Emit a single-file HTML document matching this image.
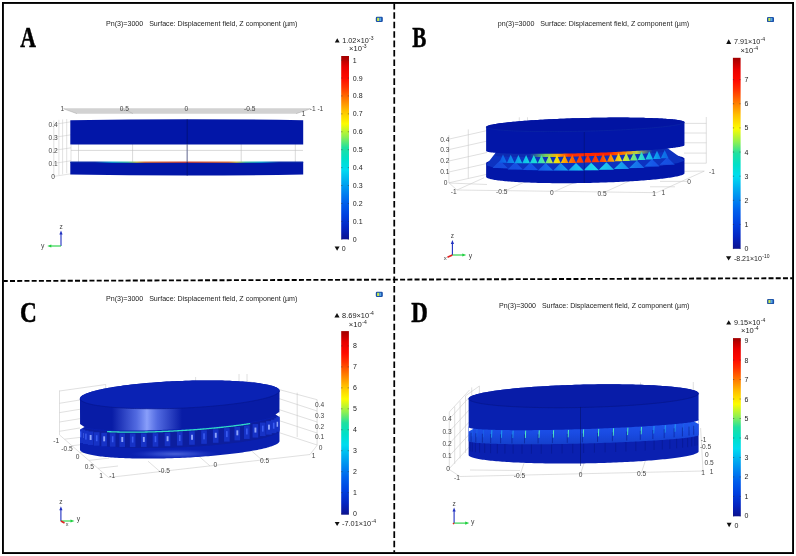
<!DOCTYPE html><html><head><meta charset="utf-8"><style>html,body{margin:0;padding:0;background:#fff;overflow:hidden}svg{display:block;filter:blur(0.45px)}</style></head><body>
<svg width="796" height="556" viewBox="0 0 796 556" font-family='"Liberation Sans", sans-serif'>
<defs>
<linearGradient id="gA" x1="0" y1="1" x2="0" y2="0">
<stop offset="0.0000" stop-color="#0c1290"/>
<stop offset="0.0600" stop-color="#0424c0"/>
<stop offset="0.1300" stop-color="#0040e0"/>
<stop offset="0.2000" stop-color="#0060ec"/>
<stop offset="0.2500" stop-color="#0080f0"/>
<stop offset="0.3200" stop-color="#00b0f0"/>
<stop offset="0.3800" stop-color="#00dcf0"/>
<stop offset="0.4400" stop-color="#00e0c8"/>
<stop offset="0.5000" stop-color="#20e0a0"/>
<stop offset="0.5600" stop-color="#90f050"/>
<stop offset="0.6300" stop-color="#fcfc00"/>
<stop offset="0.7000" stop-color="#ffc000"/>
<stop offset="0.7600" stop-color="#ff8000"/>
<stop offset="0.8300" stop-color="#ff3400"/>
<stop offset="0.8800" stop-color="#ff0a00"/>
<stop offset="0.9400" stop-color="#e80000"/>
<stop offset="1.0000" stop-color="#a00000"/>
<stop offset="1" stop-color="#a00000"/>
</linearGradient>
<linearGradient id="gB" x1="0" y1="1" x2="0" y2="0">
<stop offset="0.0000" stop-color="#0c1290"/>
<stop offset="0.0600" stop-color="#0424c0"/>
<stop offset="0.1300" stop-color="#0040e0"/>
<stop offset="0.2000" stop-color="#0060ec"/>
<stop offset="0.2500" stop-color="#0080f0"/>
<stop offset="0.3200" stop-color="#00b0f0"/>
<stop offset="0.3800" stop-color="#00dcf0"/>
<stop offset="0.4400" stop-color="#00e0c8"/>
<stop offset="0.5000" stop-color="#20e0a0"/>
<stop offset="0.5600" stop-color="#90f050"/>
<stop offset="0.6300" stop-color="#fcfc00"/>
<stop offset="0.7000" stop-color="#ffc000"/>
<stop offset="0.7600" stop-color="#ff8000"/>
<stop offset="0.8300" stop-color="#ff3400"/>
<stop offset="0.8800" stop-color="#ff0a00"/>
<stop offset="0.9400" stop-color="#e80000"/>
<stop offset="1.0000" stop-color="#a00000"/>
<stop offset="1" stop-color="#a00000"/>
</linearGradient>
<linearGradient id="gC" x1="0" y1="1" x2="0" y2="0">
<stop offset="0.0000" stop-color="#0c1290"/>
<stop offset="0.0600" stop-color="#0424c0"/>
<stop offset="0.1300" stop-color="#0040e0"/>
<stop offset="0.2000" stop-color="#0060ec"/>
<stop offset="0.2500" stop-color="#0080f0"/>
<stop offset="0.3200" stop-color="#00b0f0"/>
<stop offset="0.3800" stop-color="#00dcf0"/>
<stop offset="0.4400" stop-color="#00e0c8"/>
<stop offset="0.5000" stop-color="#20e0a0"/>
<stop offset="0.5600" stop-color="#90f050"/>
<stop offset="0.6300" stop-color="#fcfc00"/>
<stop offset="0.7000" stop-color="#ffc000"/>
<stop offset="0.7600" stop-color="#ff8000"/>
<stop offset="0.8300" stop-color="#ff3400"/>
<stop offset="0.8800" stop-color="#ff0a00"/>
<stop offset="0.9400" stop-color="#e80000"/>
<stop offset="1.0000" stop-color="#a00000"/>
<stop offset="1" stop-color="#a00000"/>
</linearGradient>
<linearGradient id="gD" x1="0" y1="1" x2="0" y2="0">
<stop offset="0.0000" stop-color="#0c1290"/>
<stop offset="0.0600" stop-color="#0424c0"/>
<stop offset="0.1300" stop-color="#0040e0"/>
<stop offset="0.2000" stop-color="#0060ec"/>
<stop offset="0.2500" stop-color="#0080f0"/>
<stop offset="0.3200" stop-color="#00b0f0"/>
<stop offset="0.3800" stop-color="#00dcf0"/>
<stop offset="0.4400" stop-color="#00e0c8"/>
<stop offset="0.5000" stop-color="#20e0a0"/>
<stop offset="0.5600" stop-color="#90f050"/>
<stop offset="0.6300" stop-color="#fcfc00"/>
<stop offset="0.7000" stop-color="#ffc000"/>
<stop offset="0.7600" stop-color="#ff8000"/>
<stop offset="0.8300" stop-color="#ff3400"/>
<stop offset="0.8800" stop-color="#ff0a00"/>
<stop offset="0.9400" stop-color="#e80000"/>
<stop offset="1.0000" stop-color="#a00000"/>
<stop offset="1" stop-color="#a00000"/>
</linearGradient>
<linearGradient id="redA" x1="0" y1="0" x2="1" y2="0"><stop offset="0.106" stop-color="#0a2aa8"/><stop offset="0.179" stop-color="#10a8d0"/><stop offset="0.248" stop-color="#40c0a0"/><stop offset="0.286" stop-color="#c8c040"/><stop offset="0.32" stop-color="#e07030"/><stop offset="0.5" stop-color="#d04030"/><stop offset="0.68" stop-color="#e07030"/><stop offset="0.714" stop-color="#c8c040"/><stop offset="0.752" stop-color="#40c0a0"/><stop offset="0.82" stop-color="#10a8d0"/><stop offset="0.896" stop-color="#0a2aa8"/></linearGradient>
<linearGradient id="bandB" gradientUnits="userSpaceOnUse" x1="486" y1="0" x2="684" y2="0"><stop offset="0.0" stop-color="#1448d8"/><stop offset="0.08" stop-color="#1060e8"/><stop offset="0.14" stop-color="#1090ec"/><stop offset="0.2" stop-color="#10c8e8"/><stop offset="0.26" stop-color="#20e0d0"/><stop offset="0.3" stop-color="#60e890"/><stop offset="0.33" stop-color="#c0e840"/><stop offset="0.36" stop-color="#f8e000"/><stop offset="0.4" stop-color="#ffa000"/><stop offset="0.45" stop-color="#ff5000"/><stop offset="0.5" stop-color="#ff3000"/><stop offset="0.58" stop-color="#ff4000"/><stop offset="0.63" stop-color="#ff9000"/><stop offset="0.68" stop-color="#f0e020"/><stop offset="0.73" stop-color="#90e860"/><stop offset="0.78" stop-color="#30e0c8"/><stop offset="0.84" stop-color="#10b0f0"/><stop offset="0.9" stop-color="#1070e8"/><stop offset="1.0" stop-color="#1448d8"/></linearGradient>
<linearGradient id="bandB3" gradientUnits="userSpaceOnUse" x1="486" y1="0" x2="684" y2="0"><stop offset="0.0" stop-color="#1448d8"/><stop offset="0.25" stop-color="#1656e8"/><stop offset="0.35" stop-color="#1478ec"/><stop offset="0.45" stop-color="#18b8f0"/><stop offset="0.55" stop-color="#20d8ec"/><stop offset="0.65" stop-color="#18b0f0"/><stop offset="0.75" stop-color="#1478ec"/><stop offset="0.85" stop-color="#1656e8"/><stop offset="1.0" stop-color="#1448d8"/></linearGradient>
<linearGradient id="stripB" gradientUnits="userSpaceOnUse" x1="486" y1="0" x2="684" y2="0"><stop offset="0.0" stop-color="#0a2ab0"/><stop offset="0.22" stop-color="#0a2ab0"/><stop offset="0.3" stop-color="#70d060"/><stop offset="0.36" stop-color="#ffb000"/><stop offset="0.42" stop-color="#ff3000"/><stop offset="0.62" stop-color="#ff2000"/><stop offset="0.7" stop-color="#ff8000"/><stop offset="0.76" stop-color="#c0d040"/><stop offset="0.84" stop-color="#0a2ab0"/><stop offset="1.0" stop-color="#0a2ab0"/></linearGradient>
<linearGradient id="bandB2" gradientUnits="userSpaceOnUse" x1="486" y1="0" x2="684" y2="0"><stop offset="0.0" stop-color="#1448d8"/><stop offset="0.1" stop-color="#1080e8"/><stop offset="0.2" stop-color="#20d0e0"/><stop offset="0.3" stop-color="#40e8c0"/><stop offset="0.36" stop-color="#e0f020"/><stop offset="0.44" stop-color="#ffb000"/><stop offset="0.5" stop-color="#ffd000"/><stop offset="0.58" stop-color="#ff9000"/><stop offset="0.66" stop-color="#e8f020"/><stop offset="0.74" stop-color="#30e8d0"/><stop offset="0.84" stop-color="#10b0f0"/><stop offset="1.0" stop-color="#1448d8"/></linearGradient>
<linearGradient id="bandD" x1="0" y1="0" x2="0" y2="1"><stop offset="0" stop-color="#2058ee"/><stop offset="0.55" stop-color="#1a4ce4"/><stop offset="1" stop-color="#1440cc"/></linearGradient>
<radialGradient id="hlC" cx="0.5" cy="0.5" r="0.5"><stop offset="0" stop-color="#8aa2ff" stop-opacity="1"/><stop offset="0.45" stop-color="#5a78f0" stop-opacity="0.75"/><stop offset="1" stop-color="#2a40d0" stop-opacity="0"/></radialGradient>
<filter id="blB" x="-5%" y="-20%" width="110%" height="140%"><feGaussianBlur stdDeviation="0.55"/></filter>
</defs>
<rect width="796" height="556" fill="#fff"/>
<text x="106" y="25.6" font-size="7.1" fill="#222222" textLength="191.4" lengthAdjust="spacingAndGlyphs">Pn(3)=3000 &#160; Surface: Displacement field, Z component (µm)</text>
<rect x="375.8" y="16.8" width="7" height="5.2" rx="1.2" fill="#1a4fa8"/>
<rect x="377.1" y="17.8" width="2.2" height="3.2" fill="#c8e850"/>
<rect x="379.40000000000003" y="17.8" width="1.8" height="3.2" fill="#5aa8e8"/>
<text transform="translate(20.2,46.8) scale(0.73,1)" font-family='"Liberation Serif", serif' font-weight="bold" font-size="29.8" fill="#000" stroke="#000" stroke-width="0.55">A</text>
<polygon points="337.25,38.20 339.70,42.40 334.80,42.40" fill="#111"/>
<text x="342.3" y="42.6" font-size="7.0" fill="#222222" textLength="26.4" lengthAdjust="spacingAndGlyphs">1.02×10</text>
<text x="369.0" y="39.6" font-size="5.0" fill="#222222">-3</text>
<text x="349.1" y="51.2" font-size="7.0" fill="#222222" textLength="12.8" lengthAdjust="spacingAndGlyphs">×10</text>
<text x="362.2" y="48.2" font-size="5.0" fill="#222222">-3</text>
<rect x="341.2" y="56.0" width="7.800000000000011" height="183.3" fill="url(#gA)"/>
<text x="352.8" y="62.6" font-size="7.0" fill="#222222">1</text>
<line x1="341.20" y1="60.10" x2="342.40" y2="60.10" stroke="#333" stroke-width="0.5"/>
<line x1="347.80" y1="60.10" x2="349.00" y2="60.10" stroke="#333" stroke-width="0.5"/>
<text x="352.8" y="80.51999999999998" font-size="7.0" fill="#222222">0.9</text>
<line x1="341.20" y1="78.02" x2="342.40" y2="78.02" stroke="#333" stroke-width="0.5"/>
<line x1="347.80" y1="78.02" x2="349.00" y2="78.02" stroke="#333" stroke-width="0.5"/>
<text x="352.8" y="98.44" font-size="7.0" fill="#222222">0.8</text>
<line x1="341.20" y1="95.94" x2="342.40" y2="95.94" stroke="#333" stroke-width="0.5"/>
<line x1="347.80" y1="95.94" x2="349.00" y2="95.94" stroke="#333" stroke-width="0.5"/>
<text x="352.8" y="116.36" font-size="7.0" fill="#222222">0.7</text>
<line x1="341.20" y1="113.86" x2="342.40" y2="113.86" stroke="#333" stroke-width="0.5"/>
<line x1="347.80" y1="113.86" x2="349.00" y2="113.86" stroke="#333" stroke-width="0.5"/>
<text x="352.8" y="134.28" font-size="7.0" fill="#222222">0.6</text>
<line x1="341.20" y1="131.78" x2="342.40" y2="131.78" stroke="#333" stroke-width="0.5"/>
<line x1="347.80" y1="131.78" x2="349.00" y2="131.78" stroke="#333" stroke-width="0.5"/>
<text x="352.8" y="152.2" font-size="7.0" fill="#222222">0.5</text>
<line x1="341.20" y1="149.70" x2="342.40" y2="149.70" stroke="#333" stroke-width="0.5"/>
<line x1="347.80" y1="149.70" x2="349.00" y2="149.70" stroke="#333" stroke-width="0.5"/>
<text x="352.8" y="170.12" font-size="7.0" fill="#222222">0.4</text>
<line x1="341.20" y1="167.62" x2="342.40" y2="167.62" stroke="#333" stroke-width="0.5"/>
<line x1="347.80" y1="167.62" x2="349.00" y2="167.62" stroke="#333" stroke-width="0.5"/>
<text x="352.8" y="188.04000000000002" font-size="7.0" fill="#222222">0.3</text>
<line x1="341.20" y1="185.54" x2="342.40" y2="185.54" stroke="#333" stroke-width="0.5"/>
<line x1="347.80" y1="185.54" x2="349.00" y2="185.54" stroke="#333" stroke-width="0.5"/>
<text x="352.8" y="205.96" font-size="7.0" fill="#222222">0.2</text>
<line x1="341.20" y1="203.46" x2="342.40" y2="203.46" stroke="#333" stroke-width="0.5"/>
<line x1="347.80" y1="203.46" x2="349.00" y2="203.46" stroke="#333" stroke-width="0.5"/>
<text x="352.8" y="223.88" font-size="7.0" fill="#222222">0.1</text>
<line x1="341.20" y1="221.38" x2="342.40" y2="221.38" stroke="#333" stroke-width="0.5"/>
<line x1="347.80" y1="221.38" x2="349.00" y2="221.38" stroke="#333" stroke-width="0.5"/>
<text x="352.8" y="241.8" font-size="7.0" fill="#222222">0</text>
<line x1="341.20" y1="239.30" x2="342.40" y2="239.30" stroke="#333" stroke-width="0.5"/>
<line x1="347.80" y1="239.30" x2="349.00" y2="239.30" stroke="#333" stroke-width="0.5"/>
<polygon points="334.60,246.60 339.60,246.60 337.10,250.80" fill="#111"/>
<text x="341.8" y="251.2" font-size="7.0" fill="#222222">0</text>
<polygon points="63.50,108.80 77.00,113.70 296.00,113.70 310.50,108.80 310.50,108.20 63.50,108.20" fill="#d2d2d2"/>
<line x1="63.50" y1="108.80" x2="77.00" y2="113.70" stroke="#999" stroke-width="0.4"/>
<line x1="296.00" y1="113.70" x2="310.50" y2="108.80" stroke="#999" stroke-width="0.4"/>
<text x="62.3" y="111.3" font-size="6.6" fill="#444" text-anchor="middle">1</text>
<text x="124.3" y="110.8" font-size="6.6" fill="#444" text-anchor="middle">0.5</text>
<line x1="128.00" y1="111.00" x2="133.00" y2="113.60" stroke="#999" stroke-width="0.4"/>
<text x="186.3" y="110.6" font-size="6.6" fill="#444" text-anchor="middle">0</text>
<text x="249.8" y="110.8" font-size="6.6" fill="#444" text-anchor="middle">-0.5</text>
<text x="316.5" y="111.0" font-size="6.6" fill="#444" text-anchor="middle">-1 -1</text>
<text x="303.6" y="116.4" font-size="6.6" fill="#444" text-anchor="middle">1</text>
<line x1="53.80" y1="120.50" x2="53.80" y2="176.50" stroke="#c4c4c4" stroke-width="0.5"/>
<line x1="58.90" y1="119.80" x2="58.90" y2="175.22" stroke="#c4c4c4" stroke-width="0.5"/>
<line x1="62.60" y1="119.40" x2="62.60" y2="174.30" stroke="#c4c4c4" stroke-width="0.5"/>
<line x1="66.70" y1="119.00" x2="66.70" y2="173.28" stroke="#c4c4c4" stroke-width="0.5"/>
<line x1="53.80" y1="124.40" x2="71.00" y2="121.80" stroke="#c4c4c4" stroke-width="0.5"/>
<line x1="53.80" y1="137.40" x2="71.00" y2="134.80" stroke="#c4c4c4" stroke-width="0.5"/>
<line x1="53.80" y1="150.40" x2="71.00" y2="147.80" stroke="#c4c4c4" stroke-width="0.5"/>
<line x1="53.80" y1="163.40" x2="71.00" y2="160.80" stroke="#c4c4c4" stroke-width="0.5"/>
<line x1="53.80" y1="176.40" x2="71.00" y2="173.80" stroke="#c4c4c4" stroke-width="0.5"/>
<text x="53.2" y="126.80000000000001" font-size="6.6" fill="#444" text-anchor="middle">0.4</text>
<text x="53.2" y="139.8" font-size="6.6" fill="#444" text-anchor="middle">0.3</text>
<text x="53.2" y="152.8" font-size="6.6" fill="#444" text-anchor="middle">0.2</text>
<text x="53.2" y="165.8" font-size="6.6" fill="#444" text-anchor="middle">0.1</text>
<text x="53.0" y="178.8" font-size="6.6" fill="#444" text-anchor="middle">0</text>
<line x1="71.00" y1="150.40" x2="303.00" y2="150.40" stroke="#c0c0c0" stroke-width="0.6"/>
<line x1="71.00" y1="145.00" x2="71.00" y2="161.50" stroke="#c0c0c0" stroke-width="0.5"/>
<line x1="78.50" y1="144.00" x2="78.50" y2="162.00" stroke="#c0c0c0" stroke-width="0.6"/>
<line x1="132.60" y1="144.00" x2="132.60" y2="162.00" stroke="#c0c0c0" stroke-width="0.6"/>
<line x1="241.20" y1="144.00" x2="241.20" y2="162.00" stroke="#c0c0c0" stroke-width="0.6"/>
<line x1="295.30" y1="144.00" x2="295.30" y2="162.00" stroke="#c0c0c0" stroke-width="0.6"/>
<path d="M70.3,120.3 Q187,118.0 303.2,120.3 L303.2,144.4 L70.3,144.4 Z" fill="#0216a8"/>
<path d="M70.3,161.9 L303.2,161.9 L303.2,174.5 Q187,176.7 70.3,174.5 Z" fill="#0216a8"/>
<rect x="70.3" y="161.5" width="232.9" height="1.3" fill="url(#redA)"/>
<line x1="187.20" y1="119.40" x2="187.20" y2="175.70" stroke="#02106a" stroke-width="0.7"/>
<line x1="187.20" y1="144.40" x2="187.20" y2="161.70" stroke="#bbb" stroke-width="0.6"/>
<line x1="61.00" y1="246.00" x2="61.00" y2="233.50" stroke="#2030c0" stroke-width="1.1"/>
<polygon points="61.00,230.50 59.40,234.50 62.60,234.50" fill="#2030c0"/>
<line x1="61.00" y1="246.00" x2="50.30" y2="246.00" stroke="#20d040" stroke-width="1.1"/>
<polygon points="47.30,246.00 51.30,244.40 51.30,247.60" fill="#20d040"/>
<text x="61" y="229.0" font-size="6.5" fill="#444" text-anchor="middle">z</text>
<text x="42.8" y="248.4" font-size="6.8" fill="#444" text-anchor="middle">y</text>
<text x="497.8" y="25.6" font-size="7.1" fill="#222222" textLength="191.4" lengthAdjust="spacingAndGlyphs">pn(3)=3000 &#160; Surface: Displacement field, Z component (µm)</text>
<rect x="767" y="16.9" width="7" height="5.2" rx="1.2" fill="#1a4fa8"/>
<rect x="768.3" y="17.9" width="2.2" height="3.2" fill="#c8e850"/>
<rect x="770.6" y="17.9" width="1.8" height="3.2" fill="#5aa8e8"/>
<text transform="translate(412.3,46.8) scale(0.71,1)" font-family='"Liberation Serif", serif' font-weight="bold" font-size="29.8" fill="#000" stroke="#000" stroke-width="0.55">B</text>
<polygon points="728.70,39.30 731.20,44.00 726.20,44.00" fill="#111"/>
<text x="733.9" y="44.0" font-size="7.0" fill="#222222" textLength="26.4" lengthAdjust="spacingAndGlyphs">7.91×10</text>
<text x="760.6" y="41.0" font-size="5.0" fill="#222222">-4</text>
<text x="740.4" y="52.9" font-size="7.0" fill="#222222" textLength="12.8" lengthAdjust="spacingAndGlyphs">×10</text>
<text x="753.6" y="49.9" font-size="5.0" fill="#222222">-4</text>
<rect x="732.9" y="57.8" width="7.7000000000000455" height="191.0" fill="url(#gB)"/>
<text x="744.5" y="82.11999999999998" font-size="7.0" fill="#222222">7</text>
<line x1="732.90" y1="79.62" x2="734.10" y2="79.62" stroke="#333" stroke-width="0.5"/>
<line x1="739.40" y1="79.62" x2="740.60" y2="79.62" stroke="#333" stroke-width="0.5"/>
<text x="744.5" y="106.25999999999999" font-size="7.0" fill="#222222">6</text>
<line x1="732.90" y1="103.76" x2="734.10" y2="103.76" stroke="#333" stroke-width="0.5"/>
<line x1="739.40" y1="103.76" x2="740.60" y2="103.76" stroke="#333" stroke-width="0.5"/>
<text x="744.5" y="130.39999999999998" font-size="7.0" fill="#222222">5</text>
<line x1="732.90" y1="127.90" x2="734.10" y2="127.90" stroke="#333" stroke-width="0.5"/>
<line x1="739.40" y1="127.90" x2="740.60" y2="127.90" stroke="#333" stroke-width="0.5"/>
<text x="744.5" y="154.54" font-size="7.0" fill="#222222">4</text>
<line x1="732.90" y1="152.04" x2="734.10" y2="152.04" stroke="#333" stroke-width="0.5"/>
<line x1="739.40" y1="152.04" x2="740.60" y2="152.04" stroke="#333" stroke-width="0.5"/>
<text x="744.5" y="178.68" font-size="7.0" fill="#222222">3</text>
<line x1="732.90" y1="176.18" x2="734.10" y2="176.18" stroke="#333" stroke-width="0.5"/>
<line x1="739.40" y1="176.18" x2="740.60" y2="176.18" stroke="#333" stroke-width="0.5"/>
<text x="744.5" y="202.82" font-size="7.0" fill="#222222">2</text>
<line x1="732.90" y1="200.32" x2="734.10" y2="200.32" stroke="#333" stroke-width="0.5"/>
<line x1="739.40" y1="200.32" x2="740.60" y2="200.32" stroke="#333" stroke-width="0.5"/>
<text x="744.5" y="226.95999999999998" font-size="7.0" fill="#222222">1</text>
<line x1="732.90" y1="224.46" x2="734.10" y2="224.46" stroke="#333" stroke-width="0.5"/>
<line x1="739.40" y1="224.46" x2="740.60" y2="224.46" stroke="#333" stroke-width="0.5"/>
<text x="744.5" y="251.1" font-size="7.0" fill="#222222">0</text>
<line x1="732.90" y1="248.60" x2="734.10" y2="248.60" stroke="#333" stroke-width="0.5"/>
<line x1="739.40" y1="248.60" x2="740.60" y2="248.60" stroke="#333" stroke-width="0.5"/>
<polygon points="726.00,256.20 731.30,256.20 728.65,260.60" fill="#111"/>
<text x="733.9" y="260.7" font-size="7.0" fill="#222222" textLength="28.0" lengthAdjust="spacingAndGlyphs">-8.21×10</text>
<text x="762.3" y="257.6" font-size="5.0" fill="#222222">-10</text>
<line x1="448.90" y1="135.00" x2="448.90" y2="182.80" stroke="#c6c6c6" stroke-width="0.55"/>
<line x1="468.30" y1="129.40" x2="468.30" y2="178.50" stroke="#c6c6c6" stroke-width="0.55"/>
<line x1="448.90" y1="139.10" x2="487.00" y2="130.60" stroke="#c6c6c6" stroke-width="0.55"/>
<line x1="448.90" y1="149.60" x2="487.00" y2="141.10" stroke="#c6c6c6" stroke-width="0.55"/>
<line x1="448.90" y1="161.00" x2="487.00" y2="152.50" stroke="#c6c6c6" stroke-width="0.55"/>
<line x1="448.90" y1="172.00" x2="487.00" y2="163.50" stroke="#c6c6c6" stroke-width="0.55"/>
<line x1="448.90" y1="182.80" x2="487.00" y2="174.30" stroke="#c6c6c6" stroke-width="0.55"/>
<line x1="519.30" y1="117.30" x2="519.30" y2="122.00" stroke="#c6c6c6" stroke-width="0.55"/>
<line x1="527.50" y1="117.30" x2="527.50" y2="121.00" stroke="#c6c6c6" stroke-width="0.55"/>
<text x="444.8" y="141.5" font-size="6.6" fill="#444" text-anchor="middle">0.4</text>
<text x="444.8" y="152.0" font-size="6.6" fill="#444" text-anchor="middle">0.3</text>
<text x="444.8" y="163.4" font-size="6.6" fill="#444" text-anchor="middle">0.2</text>
<text x="444.8" y="174.4" font-size="6.6" fill="#444" text-anchor="middle">0.1</text>
<text x="445.7" y="185.2" font-size="6.6" fill="#444" text-anchor="middle">0</text>
<line x1="706.30" y1="117.00" x2="706.30" y2="163.20" stroke="#c6c6c6" stroke-width="0.55"/>
<line x1="684.00" y1="123.40" x2="706.30" y2="123.40" stroke="#c6c6c6" stroke-width="0.55"/>
<line x1="684.00" y1="133.00" x2="706.30" y2="133.00" stroke="#c6c6c6" stroke-width="0.55"/>
<line x1="684.00" y1="142.80" x2="706.30" y2="142.80" stroke="#c6c6c6" stroke-width="0.55"/>
<line x1="684.00" y1="153.10" x2="706.30" y2="153.10" stroke="#c6c6c6" stroke-width="0.55"/>
<line x1="684.00" y1="163.20" x2="706.30" y2="163.20" stroke="#c6c6c6" stroke-width="0.55"/>
<line x1="448.90" y1="182.80" x2="457.00" y2="190.00" stroke="#c6c6c6" stroke-width="0.55"/>
<line x1="457.00" y1="190.00" x2="656.60" y2="192.70" stroke="#c6c6c6" stroke-width="0.55"/>
<line x1="656.60" y1="192.70" x2="704.30" y2="171.10" stroke="#c6c6c6" stroke-width="0.55"/>
<line x1="684.00" y1="171.30" x2="704.30" y2="171.10" stroke="#c6c6c6" stroke-width="0.55"/>
<line x1="660.00" y1="181.40" x2="687.00" y2="181.40" stroke="#c6c6c6" stroke-width="0.55"/>
<line x1="650.00" y1="186.80" x2="675.00" y2="186.80" stroke="#c6c6c6" stroke-width="0.55"/>
<line x1="457.00" y1="190.00" x2="484.00" y2="177.80" stroke="#c6c6c6" stroke-width="0.55"/>
<line x1="505.50" y1="190.65" x2="532.50" y2="178.45" stroke="#c6c6c6" stroke-width="0.55"/>
<line x1="555.00" y1="191.32" x2="582.00" y2="179.12" stroke="#c6c6c6" stroke-width="0.55"/>
<line x1="605.00" y1="192.00" x2="632.00" y2="179.80" stroke="#c6c6c6" stroke-width="0.55"/>
<line x1="449.00" y1="183.00" x2="487.00" y2="184.50" stroke="#c6c6c6" stroke-width="0.55"/>
<text x="453.8" y="193.6" font-size="6.6" fill="#444" text-anchor="middle">-1</text>
<text x="501.8" y="194.0" font-size="6.6" fill="#444" text-anchor="middle">-0.5</text>
<text x="551.9" y="195.0" font-size="6.6" fill="#444" text-anchor="middle">0</text>
<text x="602.0" y="195.5" font-size="6.6" fill="#444" text-anchor="middle">0.5</text>
<text x="654.0" y="196.2" font-size="6.6" fill="#444" text-anchor="middle">1</text>
<text x="663.3" y="195.2" font-size="6.6" fill="#444" text-anchor="middle">1</text>
<text x="689.0" y="184.1" font-size="6.6" fill="#444" text-anchor="middle">0</text>
<text x="711.9" y="174.1" font-size="6.6" fill="#444" text-anchor="middle">-1</text>
<polygon points="486.13,163.23 486.16,163.01 486.26,162.79 486.43,162.56 486.67,162.33 486.97,162.11 487.35,161.88 487.79,161.65 488.29,161.42 488.87,161.19 489.50,160.96 490.21,160.73 490.98,160.50 491.81,160.27 492.71,160.04 493.67,159.81 494.70,159.58 495.79,159.36 496.93,159.13 498.14,158.91 499.41,158.68 500.74,158.46 502.13,158.24 503.57,158.03 505.07,157.81 506.62,157.60 508.23,157.39 509.89,157.18 511.60,156.97 513.36,156.77 515.17,156.57 517.03,156.37 518.94,156.18 520.89,155.99 522.89,155.80 524.93,155.61 527.01,155.43 529.13,155.26 531.29,155.09 533.48,154.92 535.71,154.75 537.98,154.59 540.28,154.44 542.60,154.29 544.96,154.14 547.35,154.00 549.76,153.86 552.19,153.73 554.65,153.60 557.13,153.48 559.63,153.37 562.15,153.25 564.68,153.15 567.23,153.05 569.79,152.95 572.36,152.86 574.93,152.78 577.52,152.70 580.11,152.63 582.70,152.56 585.30,152.50 587.90,152.44 590.49,152.39 593.08,152.35 595.67,152.31 598.24,152.28 600.81,152.25 603.37,152.23 605.92,152.22 608.45,152.21 610.97,152.21 613.47,152.21 615.95,152.22 618.41,152.24 620.84,152.26 623.25,152.29 625.64,152.32 628.00,152.36 630.32,152.41 632.62,152.46 634.89,152.52 637.12,152.58 639.31,152.65 641.47,152.73 643.59,152.81 645.67,152.89 647.71,152.99 649.71,153.08 651.66,153.19 653.57,153.29 655.43,153.41 657.24,153.53 659.00,153.65 660.71,153.78 662.37,153.91 663.98,154.05 665.53,154.20 667.03,154.34 668.47,154.50 669.86,154.65 671.19,154.81 672.46,154.98 673.67,155.15 674.81,155.32 675.90,155.50 676.93,155.68 677.89,155.87 678.79,156.06 679.62,156.25 680.39,156.44 681.10,156.64 681.73,156.84 682.31,157.05 682.81,157.25 683.25,157.46 683.63,157.68 683.93,157.89 684.17,158.11 684.34,158.32 684.44,158.54 684.47,158.77 684.48,173.21 684.45,173.42 684.35,173.63 684.18,173.84 683.94,174.06 683.64,174.27 683.26,174.48 682.82,174.70 682.32,174.91 681.74,175.13 681.10,175.34 680.40,175.56 679.63,175.77 678.79,175.98 677.90,176.20 676.93,176.41 675.91,176.62 674.82,176.83 673.67,177.04 672.46,177.25 671.20,177.45 669.87,177.66 668.48,177.86 667.04,178.06 665.54,178.26 663.99,178.45 662.38,178.65 660.72,178.84 659.01,179.02 657.25,179.21 655.43,179.39 653.57,179.57 651.67,179.75 649.71,179.92 647.72,180.09 645.68,180.26 643.60,180.42 641.48,180.58 639.32,180.74 637.12,180.89 634.89,181.03 632.63,181.18 630.33,181.32 628.00,181.45 625.64,181.58 623.26,181.71 620.84,181.83 618.41,181.95 615.95,182.06 613.47,182.16 610.97,182.27 608.45,182.36 605.92,182.45 603.37,182.54 600.82,182.62 598.25,182.70 595.67,182.77 593.08,182.84 590.49,182.90 587.90,182.95 585.30,183.00 582.70,183.05 580.11,183.08 577.52,183.12 574.93,183.14 572.35,183.17 569.78,183.18 567.23,183.19 564.68,183.20 562.15,183.20 559.63,183.19 557.13,183.18 554.65,183.16 552.19,183.14 549.76,183.11 547.34,183.08 544.96,183.04 542.60,182.99 540.27,182.94 537.97,182.89 535.71,182.82 533.48,182.76 531.28,182.68 529.12,182.61 527.00,182.52 524.92,182.44 522.88,182.34 520.89,182.25 518.93,182.14 517.03,182.04 515.17,181.92 513.35,181.81 511.59,181.68 509.88,181.56 508.22,181.43 506.61,181.29 505.06,181.15 503.56,181.01 502.12,180.86 500.73,180.71 499.40,180.55 498.14,180.39 496.93,180.23 495.78,180.06 494.69,179.89 493.67,179.71 492.70,179.54 491.81,179.36 490.97,179.17 490.20,178.99 489.50,178.80 488.86,178.61 488.28,178.41 487.78,178.22 487.34,178.02 486.96,177.82 486.66,177.62 486.42,177.41 486.25,177.21 486.15,177.00 486.12,176.79" fill="#0216a8"/>
<g filter="url(#blB)">
<polygon points="665.52,146.71 664.52,146.80 663.49,146.90 662.44,147.00 661.37,147.10 660.28,147.19 659.16,147.29 658.03,147.39 656.87,147.48 655.69,147.58 654.49,147.67 653.27,147.77 652.03,147.86 650.78,147.95 649.50,148.05 648.21,148.14 646.89,148.23 645.56,148.32 644.21,148.41 642.85,148.50 641.46,148.59 640.07,148.68 638.65,148.76 637.22,148.85 635.78,148.94 634.32,149.02 632.84,149.11 631.35,149.19 629.85,149.27 628.34,149.35 626.81,149.44 625.28,149.52 623.73,149.59 622.16,149.67 620.59,149.75 619.01,149.82 617.42,149.90 615.82,149.97 614.21,150.04 612.59,150.12 610.96,150.19 609.33,150.25 607.69,150.32 606.04,150.39 604.39,150.45 602.73,150.52 601.07,150.58 599.40,150.64 597.73,150.70 596.05,150.76 594.37,150.82 592.69,150.87 591.01,150.93 589.32,150.98 587.64,151.03 585.95,151.08 584.26,151.13 582.57,151.18 580.89,151.23 579.20,151.27 577.52,151.31 575.84,151.35 574.16,151.39 572.49,151.43 570.81,151.47 569.15,151.51 567.49,151.54 565.83,151.57 564.18,151.60 562.53,151.63 560.89,151.66 559.26,151.68 557.64,151.71 556.02,151.73 554.41,151.75 552.81,151.77 551.22,151.79 549.64,151.80 548.07,151.82 546.52,151.83 544.97,151.84 543.43,151.85 541.91,151.86 540.40,151.87 538.90,151.87 537.42,151.87 535.95,151.87 534.49,151.87 533.05,151.87 531.62,151.87 530.21,151.86 528.82,151.85 527.44,151.84 526.08,151.83 524.73,151.82 523.40,151.81 522.09,151.79 520.80,151.78 519.53,151.76 518.28,151.74 517.04,151.71 515.83,151.69 514.64,151.66 513.46,151.64 512.31,151.61 511.18,151.58 510.07,151.55 508.98,151.51 507.91,151.48 506.87,151.44 505.85,151.40 504.85,151.36 503.88,151.32 502.93,151.28 502.00,151.24 501.09,151.19 500.22,151.14 499.36,151.09 498.53,151.04 497.73,150.99 496.95,150.94 486.32,164.76 486.51,164.97 486.76,165.18 487.07,165.38 487.45,165.59 487.88,165.79 488.38,165.99 488.94,166.18 489.56,166.37 490.24,166.56 490.98,166.75 491.78,166.94 492.64,167.12 493.56,167.30 494.53,167.47 495.56,167.64 496.65,167.81 497.80,167.97 499.00,168.13 500.26,168.29 501.56,168.44 502.93,168.59 504.34,168.73 505.80,168.87 507.32,169.01 508.88,169.14 510.50,169.27 512.16,169.39 513.86,169.51 515.61,169.62 517.41,169.73 519.25,169.83 521.13,169.93 523.05,170.02 525.01,170.11 527.01,170.19 529.04,170.27 531.11,170.34 533.22,170.41 535.35,170.47 537.52,170.53 539.72,170.58 541.95,170.62 544.20,170.66 546.49,170.70 548.79,170.73 551.12,170.75 553.47,170.77 555.84,170.78 558.23,170.79 560.64,170.79 563.06,170.79 565.49,170.78 567.94,170.76 570.40,170.74 572.87,170.72 575.35,170.68 577.83,170.65 580.32,170.60 582.81,170.56 585.30,170.50 587.79,170.44 590.28,170.38 592.77,170.31 595.25,170.24 597.73,170.16 600.20,170.07 602.66,169.98 605.11,169.88 607.54,169.78 609.96,169.68 612.37,169.57 614.76,169.45 617.13,169.34 619.48,169.21 621.81,169.08 624.11,168.95 626.40,168.81 628.65,168.67 630.88,168.52 633.08,168.37 635.25,168.22 637.38,168.06 639.49,167.90 641.56,167.73 643.59,167.57 645.59,167.39 647.55,167.22 649.47,167.04 651.35,166.85 653.19,166.67 654.99,166.48 656.74,166.29 658.44,166.09 660.10,165.90 661.72,165.70 663.28,165.50 664.80,165.29 666.26,165.09 667.67,164.88 669.04,164.67 670.34,164.46 671.60,164.25 672.80,164.03 673.95,163.82 675.04,163.60 676.07,163.38 677.04,163.16 677.96,162.94 678.82,162.72 679.62,162.50 680.36,162.28 681.04,162.06 681.66,161.84 682.22,161.62 682.72,161.40 683.15,161.18 683.53,160.96 683.84,160.74 684.09,160.52 684.28,160.30" fill="#0c30c0"/>
<polygon points="492.40,168.06 507.60,168.06 500.00,160.56" fill="url(#bandB3)"/>
<polygon points="507.60,169.39 522.80,169.39 515.20,161.89" fill="url(#bandB3)"/>
<polygon points="522.80,170.12 538.00,170.12 530.40,162.62" fill="url(#bandB3)"/>
<polygon points="538.00,170.49 553.20,170.49 545.60,162.99" fill="url(#bandB3)"/>
<polygon points="553.20,170.59 568.40,170.59 560.80,163.09" fill="url(#bandB3)"/>
<polygon points="568.40,170.47 583.60,170.47 576.00,162.97" fill="url(#bandB3)"/>
<polygon points="583.60,170.15 598.80,170.15 591.20,162.65" fill="url(#bandB3)"/>
<polygon points="598.80,169.63 614.00,169.63 606.40,162.13" fill="url(#bandB3)"/>
<polygon points="614.00,168.89 629.20,168.89 621.60,161.39" fill="url(#bandB3)"/>
<polygon points="629.20,167.91 644.40,167.91 636.80,160.41" fill="url(#bandB3)"/>
<polygon points="644.40,166.59 659.60,166.59 652.00,159.09" fill="url(#bandB3)"/>
<polygon points="659.60,164.75 674.80,164.75 667.20,157.25" fill="url(#bandB3)"/>
<polygon points="665.52,147.21 664.50,147.31 663.46,147.41 662.39,147.50 661.30,147.60 660.19,147.70 659.06,147.80 657.90,147.90 656.72,147.99 655.53,148.09 654.31,148.19 653.06,148.28 651.80,148.38 650.52,148.47 649.22,148.57 647.90,148.66 646.57,148.75 645.21,148.84 643.84,148.94 642.44,149.03 641.04,149.12 639.61,149.21 638.17,149.29 636.71,149.38 635.24,149.47 633.75,149.56 632.25,149.64 630.73,149.72 629.20,149.81 627.66,149.89 626.10,149.97 624.54,150.05 622.96,150.13 621.37,150.21 619.77,150.29 618.15,150.36 616.53,150.44 614.90,150.51 613.26,150.59 611.62,150.66 609.96,150.73 608.30,150.80 606.63,150.86 604.95,150.93 603.27,151.00 601.58,151.06 599.89,151.12 598.19,151.18 596.49,151.24 594.79,151.30 593.08,151.36 591.37,151.42 589.66,151.47 587.95,151.52 586.23,151.57 584.52,151.62 582.81,151.67 581.10,151.72 579.38,151.77 577.68,151.81 575.97,151.85 574.26,151.89 572.56,151.93 570.87,151.97 569.17,152.00 567.49,152.04 565.80,152.07 564.13,152.10 562.46,152.13 560.79,152.16 559.13,152.19 557.49,152.21 555.85,152.23 554.21,152.25 552.59,152.27 550.98,152.29 549.38,152.31 547.79,152.32 546.21,152.33 544.64,152.34 543.08,152.35 541.54,152.36 540.01,152.37 538.49,152.37 536.99,152.37 535.50,152.37 534.02,152.37 532.56,152.37 531.12,152.37 529.69,152.36 528.28,152.35 526.89,152.34 525.51,152.33 524.16,152.32 522.82,152.30 521.50,152.28 520.19,152.27 518.91,152.25 517.65,152.22 516.41,152.20 515.18,152.18 513.98,152.15 512.80,152.12 511.65,152.09 510.51,152.06 509.40,152.03 508.31,151.99 507.24,151.95 506.19,151.92 505.17,151.88 504.17,151.84 503.20,151.79 502.25,151.75 501.33,151.70 500.43,151.65 499.56,151.61 498.71,151.56 497.89,151.50 497.09,151.45 496.32,151.40 495.58,151.34 495.58,156.04 496.32,156.10 497.09,156.15 497.89,156.20 498.71,156.26 499.56,156.31 500.43,156.35 501.33,156.40 502.25,156.45 503.20,156.49 504.17,156.54 505.17,156.58 506.19,156.62 507.24,156.65 508.31,156.69 509.40,156.73 510.51,156.76 511.65,156.79 512.80,156.82 513.98,156.85 515.18,156.88 516.41,156.90 517.65,156.92 518.91,156.95 520.19,156.97 521.50,156.98 522.82,157.00 524.16,157.02 525.51,157.03 526.89,157.04 528.28,157.05 529.69,157.06 531.12,157.07 532.56,157.07 534.02,157.07 535.50,157.07 536.99,157.07 538.49,157.07 540.01,157.07 541.54,157.06 543.08,157.05 544.64,157.04 546.21,157.03 547.79,157.02 549.38,157.01 550.98,156.99 552.59,156.97 554.21,156.95 555.85,156.93 557.49,156.91 559.13,156.89 560.79,156.86 562.46,156.83 564.13,156.80 565.80,156.77 567.49,156.74 569.17,156.70 570.87,156.67 572.56,156.63 574.26,156.59 575.97,156.55 577.68,156.51 579.38,156.47 581.10,156.42 582.81,156.37 584.52,156.32 586.23,156.27 587.95,156.22 589.66,156.17 591.37,156.12 593.08,156.06 594.79,156.00 596.49,155.94 598.19,155.88 599.89,155.82 601.58,155.76 603.27,155.70 604.95,155.63 606.63,155.56 608.30,155.50 609.96,155.43 611.62,155.36 613.26,155.29 614.90,155.21 616.53,155.14 618.15,155.06 619.77,154.99 621.37,154.91 622.96,154.83 624.54,154.75 626.10,154.67 627.66,154.59 629.20,154.51 630.73,154.42 632.25,154.34 633.75,154.26 635.24,154.17 636.71,154.08 638.17,153.99 639.61,153.91 641.04,153.82 642.44,153.73 643.84,153.64 645.21,153.54 646.57,153.45 647.90,153.36 649.22,153.27 650.52,153.17 651.80,153.08 653.06,152.98 654.31,152.89 655.53,152.79 656.72,152.69 657.90,152.60 659.06,152.50 660.19,152.40 661.30,152.30 662.39,152.20 663.46,152.11 664.50,152.01 665.52,151.91" fill="url(#stripB)"/>
<polygon points="499.15,162.78 506.85,162.78 503.00,154.48" fill="url(#bandB)"/>
<polygon points="506.85,163.06 514.55,163.06 510.70,154.76" fill="url(#bandB)"/>
<polygon points="514.55,163.24 522.25,163.24 518.40,154.94" fill="url(#bandB)"/>
<polygon points="522.25,163.33 529.95,163.33 526.10,155.03" fill="url(#bandB)"/>
<polygon points="529.95,163.37 537.65,163.37 533.80,155.07" fill="url(#bandB)"/>
<polygon points="537.65,163.36 545.35,163.36 541.50,155.06" fill="url(#bandB)"/>
<polygon points="545.35,163.31 553.05,163.31 549.20,155.01" fill="url(#bandB)"/>
<polygon points="553.05,163.22 560.75,163.22 556.90,154.92" fill="url(#bandB)"/>
<polygon points="560.75,163.09 568.45,163.09 564.60,154.79" fill="url(#bandB)"/>
<polygon points="568.45,162.94 576.15,162.94 572.30,154.64" fill="url(#bandB)"/>
<polygon points="576.15,162.75 583.85,162.75 580.00,154.45" fill="url(#bandB)"/>
<polygon points="583.85,162.53 591.55,162.53 587.70,154.23" fill="url(#bandB)"/>
<polygon points="591.55,162.28 599.25,162.28 595.40,153.98" fill="url(#bandB)"/>
<polygon points="599.25,162.00 606.95,162.00 603.10,153.70" fill="url(#bandB)"/>
<polygon points="606.95,161.69 614.65,161.69 610.80,153.39" fill="url(#bandB)"/>
<polygon points="614.65,161.35 622.35,161.35 618.50,153.05" fill="url(#bandB)"/>
<polygon points="622.35,160.97 630.05,160.97 626.20,152.67" fill="url(#bandB)"/>
<polygon points="630.05,160.55 637.75,160.55 633.90,152.25" fill="url(#bandB)"/>
<polygon points="637.75,160.08 645.45,160.08 641.60,151.78" fill="url(#bandB)"/>
<polygon points="645.45,159.56 653.15,159.56 649.30,151.26" fill="url(#bandB)"/>
<polygon points="653.15,158.97 660.85,158.97 657.00,150.67" fill="url(#bandB)"/>
<polygon points="660.85,158.29 668.55,158.29 664.70,149.99" fill="url(#bandB)"/>
</g>
<polygon points="486.13,127.00 486.16,126.82 486.26,126.65 486.43,126.47 486.67,126.29 486.98,126.11 487.35,125.93 487.79,125.75 488.30,125.57 488.87,125.39 489.51,125.21 490.21,125.02 490.98,124.84 491.82,124.65 492.72,124.47 493.68,124.29 494.70,124.10 495.79,123.92 496.94,123.74 498.15,123.56 499.42,123.37 500.74,123.19 502.13,123.01 503.57,122.83 505.07,122.66 506.62,122.48 508.23,122.31 509.89,122.13 511.60,121.96 513.36,121.79 515.18,121.63 517.04,121.46 518.94,121.30 520.89,121.14 522.89,120.98 524.93,120.82 527.01,120.67 529.13,120.52 531.29,120.37 533.48,120.22 535.71,120.08 537.98,119.94 540.28,119.81 542.61,119.67 544.96,119.54 547.35,119.42 549.76,119.30 552.20,119.18 554.65,119.06 557.13,118.95 559.63,118.84 562.15,118.74 564.68,118.64 567.23,118.55 569.79,118.45 572.36,118.37 574.93,118.28 577.52,118.21 580.11,118.13 582.70,118.06 585.30,118.00 587.90,117.94 590.49,117.88 593.08,117.83 595.67,117.78 598.24,117.74 600.81,117.70 603.37,117.67 605.92,117.64 608.45,117.62 610.97,117.60 613.47,117.59 615.95,117.58 618.40,117.58 620.84,117.58 623.25,117.58 625.64,117.59 627.99,117.61 630.32,117.63 632.62,117.65 634.89,117.68 637.12,117.72 639.31,117.76 641.47,117.80 643.59,117.85 645.67,117.90 647.71,117.96 649.71,118.02 651.66,118.09 653.56,118.16 655.42,118.24 657.24,118.32 659.00,118.40 660.71,118.49 662.37,118.58 663.98,118.68 665.53,118.78 667.03,118.89 668.47,119.00 669.86,119.11 671.18,119.22 672.45,119.34 673.66,119.47 674.81,119.60 675.90,119.73 676.92,119.86 677.88,120.00 678.78,120.14 679.62,120.28 680.39,120.43 681.09,120.58 681.73,120.73 682.30,120.88 682.81,121.04 683.25,121.20 683.62,121.36 683.93,121.53 684.17,121.69 684.34,121.86 684.44,122.03 684.47,122.20 684.46,145.22 684.42,145.35 684.32,145.48 684.15,145.62 683.91,145.76 683.61,145.89 683.24,146.03 682.80,146.18 682.29,146.32 681.72,146.46 681.08,146.61 680.37,146.76 679.60,146.90 678.77,147.05 677.87,147.20 676.91,147.35 675.89,147.50 674.80,147.65 673.65,147.80 672.44,147.95 671.17,148.10 669.85,148.25 668.46,148.41 667.02,148.56 665.52,148.71 663.97,148.86 662.36,149.01 660.70,149.16 658.99,149.30 657.23,149.45 655.42,149.60 653.56,149.74 651.65,149.89 649.70,150.03 647.70,150.17 645.66,150.31 643.58,150.45 641.46,150.59 639.31,150.72 637.11,150.86 634.88,150.99 632.61,151.12 630.32,151.25 627.99,151.37 625.63,151.50 623.25,151.62 620.84,151.74 618.40,151.85 615.94,151.97 613.46,152.08 610.96,152.19 608.45,152.29 605.92,152.39 603.37,152.49 600.81,152.59 598.24,152.68 595.66,152.77 593.08,152.86 590.49,152.94 587.90,153.02 585.30,153.10 582.70,153.18 580.11,153.25 577.52,153.31 574.94,153.38 572.36,153.44 569.79,153.49 567.23,153.54 564.68,153.59 562.15,153.64 559.64,153.68 557.14,153.72 554.66,153.75 552.20,153.78 549.76,153.80 547.35,153.82 544.97,153.84 542.61,153.86 540.28,153.87 537.99,153.87 535.72,153.87 533.49,153.87 531.29,153.87 529.14,153.86 527.02,153.84 524.94,153.82 522.90,153.80 520.90,153.78 518.95,153.75 517.04,153.71 515.18,153.68 513.37,153.63 511.61,153.59 509.90,153.54 508.24,153.49 506.63,153.43 505.08,153.37 503.58,153.31 502.14,153.24 500.75,153.17 499.43,153.10 498.16,153.02 496.95,152.94 495.80,152.86 494.71,152.77 493.69,152.68 492.73,152.58 491.83,152.49 491.00,152.39 490.23,152.29 489.52,152.18 488.88,152.07 488.31,151.96 487.80,151.85 487.36,151.73 486.99,151.61 486.69,151.49 486.45,151.37 486.28,151.24 486.18,151.11 486.14,150.98" fill="#0216a8"/>
<polygon points="684.47,122.19 684.43,122.40 684.29,122.61 684.05,122.83 683.71,123.04 683.27,123.26 682.74,123.47 682.12,123.69 681.39,123.91 680.58,124.13 679.67,124.35 678.66,124.57 677.57,124.79 676.38,125.01 675.10,125.23 673.73,125.45 672.28,125.67 670.74,125.89 669.12,126.10 667.41,126.32 665.62,126.53 663.76,126.74 661.81,126.95 659.79,127.16 657.70,127.36 655.54,127.56 653.30,127.76 651.00,127.96 648.64,128.15 646.21,128.34 643.72,128.52 641.17,128.70 638.57,128.88 635.92,129.05 633.22,129.22 630.47,129.39 627.67,129.55 624.83,129.70 621.96,129.85 619.04,129.99 616.10,130.13 613.12,130.26 610.12,130.39 607.09,130.51 604.04,130.63 600.97,130.74 597.89,130.84 594.79,130.94 591.69,131.03 588.58,131.12 585.46,131.20 582.34,131.27 579.23,131.34 576.13,131.40 573.03,131.45 569.94,131.49 566.87,131.53 563.82,131.56 560.79,131.59 557.79,131.61 554.81,131.62 551.86,131.62 548.94,131.62 546.06,131.61 543.22,131.59 540.42,131.57 537.66,131.54 534.96,131.50 532.30,131.46 529.69,131.41 527.14,131.35 524.64,131.29 522.21,131.22 519.84,131.14 517.53,131.06 515.29,130.97 513.12,130.87 511.02,130.77 508.99,130.66 507.04,130.55 505.16,130.43 503.37,130.30 501.65,130.17 500.02,130.03 498.47,129.89 497.01,129.74 495.64,129.59 494.35,129.43 493.15,129.27 492.05,129.10 491.03,128.93 490.11,128.75 489.28,128.57 488.55,128.39 487.92,128.20 487.38,128.01 486.93,127.81 486.58,127.62 486.33,127.42 486.18,127.21 486.13,127.01 486.17,126.80 486.31,126.59 486.55,126.37 486.89,126.16 487.33,125.94 487.86,125.73 488.48,125.51 489.21,125.29 490.02,125.07 490.93,124.85 491.94,124.63 493.03,124.41 494.22,124.19 495.50,123.97 496.87,123.75 498.32,123.53 499.86,123.31 501.48,123.10 503.19,122.88 504.98,122.67 506.84,122.46 508.79,122.25 510.81,122.04 512.90,121.84 515.06,121.64 517.30,121.44 519.60,121.24 521.96,121.05 524.39,120.86 526.88,120.68 529.43,120.50 532.03,120.32 534.68,120.15 537.38,119.98 540.13,119.81 542.93,119.65 545.77,119.50 548.64,119.35 551.56,119.21 554.50,119.07 557.48,118.94 560.48,118.81 563.51,118.69 566.56,118.57 569.63,118.46 572.71,118.36 575.81,118.26 578.91,118.17 582.02,118.08 585.14,118.00 588.26,117.93 591.37,117.86 594.47,117.80 597.57,117.75 600.66,117.71 603.73,117.67 606.78,117.64 609.81,117.61 612.81,117.59 615.79,117.58 618.74,117.58 621.66,117.58 624.54,117.59 627.38,117.61 630.18,117.63 632.94,117.66 635.64,117.70 638.30,117.74 640.91,117.79 643.46,117.85 645.96,117.91 648.39,117.98 650.76,118.06 653.07,118.14 655.31,118.23 657.48,118.33 659.58,118.43 661.61,118.54 663.56,118.65 665.44,118.77 667.23,118.90 668.95,119.03 670.58,119.17 672.13,119.31 673.59,119.46 674.96,119.61 676.25,119.77 677.45,119.93 678.55,120.10 679.57,120.27 680.49,120.45 681.32,120.63 682.05,120.81 682.68,121.00 683.22,121.19 683.67,121.39 684.02,121.58 684.27,121.78 684.42,121.99" fill="#0214a2"/>
<polyline points="684.47,122.20 684.44,122.38 684.34,122.55 684.17,122.73 683.93,122.91 683.62,123.09 683.25,123.27 682.81,123.45 682.30,123.63 681.73,123.81 681.09,123.99 680.39,124.18 679.62,124.36 678.78,124.55 677.88,124.73 676.92,124.91 675.90,125.10 674.81,125.28 673.66,125.46 672.45,125.64 671.18,125.83 669.86,126.01 668.47,126.19 667.03,126.37 665.53,126.54 663.98,126.72 662.37,126.89 660.71,127.07 659.00,127.24 657.24,127.41 655.42,127.57 653.56,127.74 651.66,127.90 649.71,128.06 647.71,128.22 645.67,128.38 643.59,128.53 641.47,128.68 639.31,128.83 637.12,128.98 634.89,129.12 632.62,129.26 630.32,129.39 627.99,129.53 625.64,129.66 623.25,129.78 620.84,129.90 618.40,130.02 615.95,130.14 613.47,130.25 610.97,130.36 608.45,130.46 605.92,130.56 603.37,130.65 600.81,130.75 598.24,130.83 595.67,130.92 593.08,130.99 590.49,131.07 587.90,131.14 585.30,131.20 582.70,131.26 580.11,131.32 577.52,131.37 574.93,131.42 572.36,131.46 569.79,131.50 567.23,131.53 564.68,131.56 562.15,131.58 559.63,131.60 557.13,131.61 554.65,131.62 552.20,131.62 549.76,131.62 547.35,131.62 544.96,131.61 542.61,131.59 540.28,131.57 537.98,131.55 535.71,131.52 533.48,131.48 531.29,131.44 529.13,131.40 527.01,131.35 524.93,131.30 522.89,131.24 520.89,131.18 518.94,131.11 517.04,131.04 515.18,130.96 513.36,130.88 511.60,130.80 509.89,130.71 508.23,130.62 506.62,130.52 505.07,130.42 503.57,130.31 502.13,130.20 500.74,130.09 499.42,129.98 498.15,129.86 496.94,129.73 495.79,129.60 494.70,129.47 493.68,129.34 492.72,129.20 491.82,129.06 490.98,128.92 490.21,128.77 489.51,128.62 488.87,128.47 488.30,128.32 487.79,128.16 487.35,128.00 486.98,127.84 486.67,127.67 486.43,127.51 486.26,127.34 486.16,127.17 486.13,127.00" fill="none" stroke="#0e2aa4" stroke-width="0.6"/>
<line x1="584.30" y1="132.00" x2="584.30" y2="183.00" stroke="#041068" stroke-width="0.5"/>
<line x1="452.40" y1="255.00" x2="452.40" y2="243.00" stroke="#2030c0" stroke-width="1.1"/>
<polygon points="452.40,240.00 450.80,244.00 454.00,244.00" fill="#2030c0"/>
<line x1="452.40" y1="255.00" x2="463.30" y2="255.00" stroke="#20d040" stroke-width="1.1"/>
<polygon points="466.30,255.00 462.30,253.40 462.30,256.60" fill="#20d040"/>
<line x1="452.40" y1="255.00" x2="447.50" y2="257.30" stroke="#e02020" stroke-width="1.6"/>
<text x="452.4" y="238.0" font-size="6.5" fill="#444" text-anchor="middle">z</text>
<text x="470.5" y="257.6" font-size="6.8" fill="#444" text-anchor="middle">y</text>
<text x="445.2" y="260.0" font-size="6" fill="#444" text-anchor="middle">x</text>
<text x="106" y="300.7" font-size="7.1" fill="#222222" textLength="191.4" lengthAdjust="spacingAndGlyphs">Pn(3)=3000 &#160; Surface: Displacement field, Z component (µm)</text>
<rect x="375.8" y="291.8" width="7" height="5.2" rx="1.2" fill="#1a4fa8"/>
<rect x="377.1" y="292.8" width="2.2" height="3.2" fill="#c8e850"/>
<rect x="379.40000000000003" y="292.8" width="1.8" height="3.2" fill="#5aa8e8"/>
<text transform="translate(20.0,322.0) scale(0.78,1)" font-family='"Liberation Serif", serif' font-weight="bold" font-size="29.8" fill="#000" stroke="#000" stroke-width="0.55">C</text>
<polygon points="337.00,313.10 339.60,317.60 334.40,317.60" fill="#111"/>
<text x="342.1" y="317.7" font-size="7.0" fill="#222222" textLength="27.0" lengthAdjust="spacingAndGlyphs">8.69×10</text>
<text x="369.4" y="314.6" font-size="5.0" fill="#222222">-4</text>
<text x="348.8" y="326.7" font-size="7.0" fill="#222222" textLength="13.0" lengthAdjust="spacingAndGlyphs">×10</text>
<text x="362.3" y="323.6" font-size="5.0" fill="#222222">-4</text>
<rect x="341.2" y="331.1" width="7.699999999999989" height="183.60000000000002" fill="url(#gC)"/>
<text x="352.9" y="348.42" font-size="7.0" fill="#222222">8</text>
<line x1="341.20" y1="345.92" x2="342.40" y2="345.92" stroke="#333" stroke-width="0.5"/>
<line x1="347.70" y1="345.92" x2="348.90" y2="345.92" stroke="#333" stroke-width="0.5"/>
<text x="352.9" y="369.38" font-size="7.0" fill="#222222">7</text>
<line x1="341.20" y1="366.88" x2="342.40" y2="366.88" stroke="#333" stroke-width="0.5"/>
<line x1="347.70" y1="366.88" x2="348.90" y2="366.88" stroke="#333" stroke-width="0.5"/>
<text x="352.9" y="390.34000000000003" font-size="7.0" fill="#222222">6</text>
<line x1="341.20" y1="387.84" x2="342.40" y2="387.84" stroke="#333" stroke-width="0.5"/>
<line x1="347.70" y1="387.84" x2="348.90" y2="387.84" stroke="#333" stroke-width="0.5"/>
<text x="352.9" y="411.3" font-size="7.0" fill="#222222">5</text>
<line x1="341.20" y1="408.80" x2="342.40" y2="408.80" stroke="#333" stroke-width="0.5"/>
<line x1="347.70" y1="408.80" x2="348.90" y2="408.80" stroke="#333" stroke-width="0.5"/>
<text x="352.9" y="432.26" font-size="7.0" fill="#222222">4</text>
<line x1="341.20" y1="429.76" x2="342.40" y2="429.76" stroke="#333" stroke-width="0.5"/>
<line x1="347.70" y1="429.76" x2="348.90" y2="429.76" stroke="#333" stroke-width="0.5"/>
<text x="352.9" y="453.22" font-size="7.0" fill="#222222">3</text>
<line x1="341.20" y1="450.72" x2="342.40" y2="450.72" stroke="#333" stroke-width="0.5"/>
<line x1="347.70" y1="450.72" x2="348.90" y2="450.72" stroke="#333" stroke-width="0.5"/>
<text x="352.9" y="474.18" font-size="7.0" fill="#222222">2</text>
<line x1="341.20" y1="471.68" x2="342.40" y2="471.68" stroke="#333" stroke-width="0.5"/>
<line x1="347.70" y1="471.68" x2="348.90" y2="471.68" stroke="#333" stroke-width="0.5"/>
<text x="352.9" y="495.14000000000004" font-size="7.0" fill="#222222">1</text>
<line x1="341.20" y1="492.64" x2="342.40" y2="492.64" stroke="#333" stroke-width="0.5"/>
<line x1="347.70" y1="492.64" x2="348.90" y2="492.64" stroke="#333" stroke-width="0.5"/>
<text x="352.9" y="516.1" font-size="7.0" fill="#222222">0</text>
<line x1="341.20" y1="513.60" x2="342.40" y2="513.60" stroke="#333" stroke-width="0.5"/>
<line x1="347.70" y1="513.60" x2="348.90" y2="513.60" stroke="#333" stroke-width="0.5"/>
<polygon points="334.70,522.00 339.60,522.00 337.15,526.00" fill="#111"/>
<text x="342.0" y="526.2" font-size="7.0" fill="#222222" textLength="29.2" lengthAdjust="spacingAndGlyphs">-7.01×10</text>
<text x="371.5" y="523.0" font-size="5.0" fill="#222222">-4</text>
<line x1="59.50" y1="390.40" x2="59.50" y2="434.90" stroke="#c6c6c6" stroke-width="0.55"/>
<line x1="59.50" y1="391.00" x2="105.70" y2="384.50" stroke="#c6c6c6" stroke-width="0.55"/>
<line x1="105.70" y1="384.50" x2="105.70" y2="390.00" stroke="#c6c6c6" stroke-width="0.55"/>
<line x1="59.50" y1="403.30" x2="84.00" y2="399.30" stroke="#c6c6c6" stroke-width="0.55"/>
<line x1="59.50" y1="412.60" x2="84.00" y2="408.60" stroke="#c6c6c6" stroke-width="0.55"/>
<line x1="59.50" y1="422.00" x2="84.00" y2="418.00" stroke="#c6c6c6" stroke-width="0.55"/>
<line x1="59.50" y1="431.30" x2="84.00" y2="427.30" stroke="#c6c6c6" stroke-width="0.55"/>
<line x1="195.60" y1="377.00" x2="195.60" y2="381.00" stroke="#c6c6c6" stroke-width="0.55"/>
<line x1="239.00" y1="374.00" x2="239.00" y2="381.00" stroke="#c6c6c6" stroke-width="0.55"/>
<line x1="247.00" y1="374.00" x2="247.00" y2="382.00" stroke="#c6c6c6" stroke-width="0.55"/>
<line x1="247.00" y1="381.00" x2="317.10" y2="399.70" stroke="#c6c6c6" stroke-width="0.55"/>
<line x1="297.20" y1="392.70" x2="297.20" y2="437.10" stroke="#c6c6c6" stroke-width="0.55"/>
<line x1="317.10" y1="399.70" x2="317.10" y2="445.30" stroke="#c6c6c6" stroke-width="0.55"/>
<line x1="276.00" y1="397.60" x2="317.10" y2="411.00" stroke="#c6c6c6" stroke-width="0.55"/>
<line x1="276.00" y1="408.60" x2="317.10" y2="422.00" stroke="#c6c6c6" stroke-width="0.55"/>
<line x1="276.00" y1="419.60" x2="317.10" y2="433.00" stroke="#c6c6c6" stroke-width="0.55"/>
<line x1="276.00" y1="431.60" x2="317.10" y2="445.00" stroke="#c6c6c6" stroke-width="0.55"/>
<line x1="59.50" y1="434.90" x2="108.50" y2="477.50" stroke="#c6c6c6" stroke-width="0.55"/>
<line x1="108.50" y1="477.50" x2="310.00" y2="454.50" stroke="#c6c6c6" stroke-width="0.55"/>
<line x1="310.00" y1="454.50" x2="317.10" y2="445.30" stroke="#c6c6c6" stroke-width="0.55"/>
<line x1="64.50" y1="439.20" x2="84.50" y2="436.90" stroke="#c6c6c6" stroke-width="0.55"/>
<line x1="72.00" y1="445.70" x2="92.00" y2="443.40" stroke="#c6c6c6" stroke-width="0.55"/>
<line x1="80.00" y1="452.60" x2="100.00" y2="450.30" stroke="#c6c6c6" stroke-width="0.55"/>
<line x1="89.00" y1="460.40" x2="109.00" y2="458.10" stroke="#c6c6c6" stroke-width="0.55"/>
<line x1="98.00" y1="468.30" x2="118.00" y2="466.00" stroke="#c6c6c6" stroke-width="0.55"/>
<line x1="160.00" y1="471.60" x2="148.00" y2="461.20" stroke="#c6c6c6" stroke-width="0.55"/>
<line x1="210.00" y1="465.90" x2="198.00" y2="455.50" stroke="#c6c6c6" stroke-width="0.55"/>
<line x1="262.00" y1="460.00" x2="250.00" y2="449.60" stroke="#c6c6c6" stroke-width="0.55"/>
<text x="319.5" y="407.3" font-size="6.6" fill="#444" text-anchor="middle">0.4</text>
<text x="319.5" y="418.0" font-size="6.6" fill="#444" text-anchor="middle">0.3</text>
<text x="319.5" y="428.5" font-size="6.6" fill="#444" text-anchor="middle">0.2</text>
<text x="319.5" y="439.0" font-size="6.6" fill="#444" text-anchor="middle">0.1</text>
<text x="320.6" y="450.0" font-size="6.6" fill="#444" text-anchor="middle">0</text>
<text x="56.2" y="443.1" font-size="6.6" fill="#444" text-anchor="middle">-1</text>
<text x="67.0" y="451.3" font-size="6.6" fill="#444" text-anchor="middle">-0.5</text>
<text x="77.7" y="459.4" font-size="6.6" fill="#444" text-anchor="middle">0</text>
<text x="89.3" y="468.8" font-size="6.6" fill="#444" text-anchor="middle">0.5</text>
<text x="101.1" y="478.2" font-size="6.6" fill="#444" text-anchor="middle">1</text>
<text x="112.2" y="478.4" font-size="6.6" fill="#444" text-anchor="middle">-1</text>
<text x="164.3" y="472.6" font-size="6.6" fill="#444" text-anchor="middle">-0.5</text>
<text x="215.3" y="467.4" font-size="6.6" fill="#444" text-anchor="middle">0</text>
<text x="264.5" y="463.4" font-size="6.6" fill="#444" text-anchor="middle">0.5</text>
<text x="313.6" y="458.2" font-size="6.6" fill="#444" text-anchor="middle">1</text>
<polygon points="80.05,427.01 80.09,426.72 80.19,426.42 80.36,426.12 80.60,425.82 80.91,425.52 81.28,425.21 81.72,424.91 82.23,424.60 82.81,424.28 83.45,423.97 84.16,423.65 84.93,423.33 85.77,423.01 86.68,422.69 87.64,422.37 88.67,422.05 89.77,421.73 90.92,421.40 92.14,421.08 93.41,420.76 94.75,420.44 96.14,420.12 97.59,419.80 99.09,419.48 100.66,419.16 102.27,418.85 103.94,418.53 105.66,418.22 107.43,417.91 109.25,417.60 111.12,417.30 113.04,417.00 115.00,416.70 117.01,416.40 119.06,416.11 121.15,415.82 123.28,415.54 125.45,415.26 127.66,414.98 129.90,414.71 132.18,414.45 134.49,414.18 136.83,413.93 139.20,413.68 141.60,413.43 144.02,413.19 146.47,412.95 148.94,412.72 151.43,412.50 153.95,412.28 156.48,412.07 159.02,411.87 161.58,411.67 164.15,411.48 166.74,411.30 169.33,411.12 171.93,410.95 174.53,410.79 177.14,410.63 179.75,410.48 182.36,410.34 184.97,410.21 187.57,410.08 190.17,409.97 192.76,409.86 195.35,409.76 197.92,409.66 200.48,409.58 203.02,409.50 205.55,409.43 208.07,409.37 210.56,409.32 213.03,409.28 215.48,409.24 217.90,409.21 220.30,409.20 222.67,409.19 225.01,409.18 227.32,409.19 229.60,409.21 231.84,409.23 234.05,409.26 236.22,409.30 238.35,409.35 240.44,409.41 242.49,409.47 244.50,409.55 246.46,409.63 248.38,409.72 250.25,409.82 252.07,409.92 253.84,410.04 255.56,410.16 257.23,410.29 258.84,410.43 260.41,410.57 261.91,410.72 263.36,410.88 264.75,411.05 266.09,411.22 267.36,411.40 268.58,411.59 269.73,411.79 270.83,411.99 271.86,412.20 272.82,412.41 273.73,412.63 274.57,412.86 275.34,413.09 276.05,413.33 276.69,413.57 277.27,413.82 277.78,414.08 278.22,414.34 278.59,414.60 278.90,414.87 279.14,415.15 279.31,415.42 279.41,415.71 279.45,415.99 279.51,441.01 279.47,441.35 279.37,441.68 279.20,442.02 278.96,442.36 278.65,442.70 278.28,443.04 277.84,443.38 277.33,443.73 276.75,444.08 276.11,444.42 275.40,444.77 274.62,445.12 273.78,445.47 272.88,445.82 271.91,446.17 270.88,446.51 269.79,446.86 268.63,447.21 267.42,447.55 266.14,447.89 264.81,448.24 263.41,448.57 261.96,448.91 260.45,449.25 258.89,449.58 257.28,449.91 255.61,450.23 253.88,450.55 252.11,450.87 250.29,451.19 248.42,451.50 246.50,451.80 244.54,452.11 242.53,452.40 240.48,452.70 238.39,452.98 236.25,453.27 234.08,453.54 231.87,453.81 229.63,454.08 227.35,454.34 225.04,454.59 222.70,454.84 220.32,455.08 217.93,455.31 215.50,455.54 213.05,455.76 210.58,455.97 208.08,456.18 205.57,456.37 203.04,456.56 200.49,456.75 197.93,456.92 195.36,457.09 192.77,457.24 190.18,457.39 187.58,457.54 184.97,457.67 182.36,457.80 179.75,457.91 177.14,458.02 174.53,458.12 171.92,458.21 169.32,458.29 166.73,458.36 164.14,458.43 161.57,458.48 159.01,458.53 156.46,458.56 153.93,458.59 151.42,458.61 148.92,458.62 146.45,458.62 144.00,458.61 141.57,458.59 139.18,458.56 136.80,458.53 134.46,458.48 132.15,458.43 129.87,458.37 127.63,458.29 125.42,458.21 123.25,458.12 121.11,458.02 119.02,457.91 116.97,457.80 114.96,457.67 113.00,457.54 111.08,457.40 109.21,457.25 107.39,457.09 105.62,456.92 103.89,456.75 102.22,456.57 100.61,456.38 99.05,456.18 97.54,455.98 96.09,455.76 94.69,455.54 93.36,455.32 92.08,455.08 90.87,454.84 89.71,454.60 88.62,454.35 87.59,454.09 86.62,453.82 85.72,453.55 84.88,453.27 84.10,452.99 83.39,452.70 82.75,452.41 82.17,452.11 81.66,451.81 81.22,451.51 80.85,451.20 80.54,450.88 80.30,450.56 80.13,450.24 80.03,449.91 79.99,449.59" fill="#0a20b0"/>
<clipPath id="clipC"><polygon points="80.05,427.01 80.09,426.72 80.19,426.42 80.36,426.12 80.60,425.82 80.91,425.52 81.28,425.21 81.72,424.91 82.23,424.60 82.81,424.28 83.45,423.97 84.16,423.65 84.93,423.33 85.77,423.01 86.68,422.69 87.64,422.37 88.67,422.05 89.77,421.73 90.92,421.40 92.14,421.08 93.41,420.76 94.75,420.44 96.14,420.12 97.59,419.80 99.09,419.48 100.66,419.16 102.27,418.85 103.94,418.53 105.66,418.22 107.43,417.91 109.25,417.60 111.12,417.30 113.04,417.00 115.00,416.70 117.01,416.40 119.06,416.11 121.15,415.82 123.28,415.54 125.45,415.26 127.66,414.98 129.90,414.71 132.18,414.45 134.49,414.18 136.83,413.93 139.20,413.68 141.60,413.43 144.02,413.19 146.47,412.95 148.94,412.72 151.43,412.50 153.95,412.28 156.48,412.07 159.02,411.87 161.58,411.67 164.15,411.48 166.74,411.30 169.33,411.12 171.93,410.95 174.53,410.79 177.14,410.63 179.75,410.48 182.36,410.34 184.97,410.21 187.57,410.08 190.17,409.97 192.76,409.86 195.35,409.76 197.92,409.66 200.48,409.58 203.02,409.50 205.55,409.43 208.07,409.37 210.56,409.32 213.03,409.28 215.48,409.24 217.90,409.21 220.30,409.20 222.67,409.19 225.01,409.18 227.32,409.19 229.60,409.21 231.84,409.23 234.05,409.26 236.22,409.30 238.35,409.35 240.44,409.41 242.49,409.47 244.50,409.55 246.46,409.63 248.38,409.72 250.25,409.82 252.07,409.92 253.84,410.04 255.56,410.16 257.23,410.29 258.84,410.43 260.41,410.57 261.91,410.72 263.36,410.88 264.75,411.05 266.09,411.22 267.36,411.40 268.58,411.59 269.73,411.79 270.83,411.99 271.86,412.20 272.82,412.41 273.73,412.63 274.57,412.86 275.34,413.09 276.05,413.33 276.69,413.57 277.27,413.82 277.78,414.08 278.22,414.34 278.59,414.60 278.90,414.87 279.14,415.15 279.31,415.42 279.41,415.71 279.45,415.99 279.51,441.01 279.47,441.35 279.37,441.68 279.20,442.02 278.96,442.36 278.65,442.70 278.28,443.04 277.84,443.38 277.33,443.73 276.75,444.08 276.11,444.42 275.40,444.77 274.62,445.12 273.78,445.47 272.88,445.82 271.91,446.17 270.88,446.51 269.79,446.86 268.63,447.21 267.42,447.55 266.14,447.89 264.81,448.24 263.41,448.57 261.96,448.91 260.45,449.25 258.89,449.58 257.28,449.91 255.61,450.23 253.88,450.55 252.11,450.87 250.29,451.19 248.42,451.50 246.50,451.80 244.54,452.11 242.53,452.40 240.48,452.70 238.39,452.98 236.25,453.27 234.08,453.54 231.87,453.81 229.63,454.08 227.35,454.34 225.04,454.59 222.70,454.84 220.32,455.08 217.93,455.31 215.50,455.54 213.05,455.76 210.58,455.97 208.08,456.18 205.57,456.37 203.04,456.56 200.49,456.75 197.93,456.92 195.36,457.09 192.77,457.24 190.18,457.39 187.58,457.54 184.97,457.67 182.36,457.80 179.75,457.91 177.14,458.02 174.53,458.12 171.92,458.21 169.32,458.29 166.73,458.36 164.14,458.43 161.57,458.48 159.01,458.53 156.46,458.56 153.93,458.59 151.42,458.61 148.92,458.62 146.45,458.62 144.00,458.61 141.57,458.59 139.18,458.56 136.80,458.53 134.46,458.48 132.15,458.43 129.87,458.37 127.63,458.29 125.42,458.21 123.25,458.12 121.11,458.02 119.02,457.91 116.97,457.80 114.96,457.67 113.00,457.54 111.08,457.40 109.21,457.25 107.39,457.09 105.62,456.92 103.89,456.75 102.22,456.57 100.61,456.38 99.05,456.18 97.54,455.98 96.09,455.76 94.69,455.54 93.36,455.32 92.08,455.08 90.87,454.84 89.71,454.60 88.62,454.35 87.59,454.09 86.62,453.82 85.72,453.55 84.88,453.27 84.10,452.99 83.39,452.70 82.75,452.41 82.17,452.11 81.66,451.81 81.22,451.51 80.85,451.20 80.54,450.88 80.30,450.56 80.13,450.24 80.03,449.91 79.99,449.59"/></clipPath>
<g clip-path="url(#clipC)">
<polygon points="279.43,413.88 279.40,414.15 279.29,414.43 279.12,414.71 278.89,415.00 278.58,415.29 278.20,415.58 277.76,415.87 277.25,416.17 276.68,416.47 276.03,416.77 275.33,417.08 274.55,417.38 273.71,417.69 272.81,418.00 271.84,418.30 270.81,418.61 269.72,418.93 268.57,419.24 267.35,419.55 266.08,419.86 264.74,420.17 263.35,420.48 261.90,420.79 260.39,421.10 258.83,421.41 257.22,421.72 255.55,422.03 253.83,422.33 252.06,422.63 250.24,422.94 248.37,423.23 246.45,423.53 244.49,423.82 242.48,424.11 240.43,424.40 238.34,424.69 236.21,424.97 234.04,425.24 231.83,425.52 229.59,425.79 227.31,426.05 225.00,426.31 222.66,426.57 220.29,426.82 217.90,427.07 215.47,427.31 213.02,427.54 210.55,427.77 208.06,428.00 205.55,428.22 203.02,428.43 200.47,428.64 197.92,428.84 195.34,429.04 192.76,429.23 190.17,429.41 187.57,429.58 184.97,429.75 182.36,429.91 179.75,430.07 177.14,430.22 174.53,430.36 171.93,430.49 169.33,430.61 166.74,430.73 164.16,430.84 161.58,430.94 159.03,431.04 156.48,431.13 153.95,431.21 151.44,431.28 148.95,431.34 146.48,431.40 144.03,431.44 141.60,431.48 139.21,431.51 136.84,431.54 134.50,431.55 132.19,431.56 129.91,431.56 127.67,431.55 125.46,431.53 123.29,431.50 121.16,431.47 119.07,431.43 117.02,431.38 115.01,431.32 113.05,431.25 111.13,431.18 109.26,431.10 107.44,431.01 105.67,430.91 103.95,430.80 102.28,430.69 100.67,430.57 99.11,430.44 97.60,430.31 96.15,430.16 94.76,430.01 93.42,429.86 92.15,429.69 90.93,429.52 89.78,429.34 88.69,429.16 87.66,428.97 86.69,428.77 85.79,428.57 84.95,428.36 84.17,428.14 83.47,427.92 82.82,427.69 82.25,427.46 81.74,427.22 81.30,426.98 80.92,426.73 80.61,426.48 80.38,426.22 80.21,425.96 80.10,425.69 80.07,425.42 79.99,439.09 80.03,439.41 80.13,439.74 80.30,440.06 80.54,440.38 80.85,440.70 81.22,441.01 81.66,441.31 82.17,441.61 82.75,441.91 83.39,442.20 84.10,442.49 84.88,442.77 85.72,443.05 86.62,443.32 87.59,443.59 88.62,443.85 89.71,444.10 90.87,444.34 92.08,444.58 93.36,444.82 94.69,445.04 96.09,445.26 97.54,445.48 99.05,445.68 100.61,445.88 102.22,446.07 103.89,446.25 105.62,446.42 107.39,446.59 109.21,446.75 111.08,446.90 113.00,447.04 114.96,447.17 116.97,447.30 119.02,447.41 121.11,447.52 123.25,447.62 125.42,447.71 127.63,447.79 129.87,447.87 132.15,447.93 134.46,447.98 136.80,448.03 139.18,448.06 141.57,448.09 144.00,448.11 146.45,448.12 148.92,448.12 151.42,448.11 153.93,448.09 156.46,448.06 159.01,448.03 161.57,447.98 164.14,447.93 166.73,447.86 169.32,447.79 171.92,447.71 174.53,447.62 177.14,447.52 179.75,447.41 182.36,447.30 184.97,447.17 187.58,447.04 190.18,446.89 192.77,446.74 195.36,446.59 197.93,446.42 200.49,446.25 203.04,446.06 205.57,445.87 208.08,445.68 210.58,445.47 213.05,445.26 215.50,445.04 217.93,444.81 220.32,444.58 222.70,444.34 225.04,444.09 227.35,443.84 229.63,443.58 231.87,443.31 234.08,443.04 236.25,442.77 238.39,442.48 240.48,442.20 242.53,441.90 244.54,441.61 246.50,441.30 248.42,441.00 250.29,440.69 252.11,440.37 253.88,440.05 255.61,439.73 257.28,439.41 258.89,439.08 260.45,438.75 261.96,438.41 263.41,438.07 264.81,437.74 266.14,437.39 267.42,437.05 268.63,436.71 269.79,436.36 270.88,436.01 271.91,435.67 272.88,435.32 273.78,434.97 274.62,434.62 275.40,434.27 276.11,433.92 276.75,433.58 277.33,433.23 277.84,432.88 278.28,432.54 278.65,432.20 278.96,431.86 279.20,431.52 279.37,431.18 279.47,430.85 279.51,430.51" fill="#0c1e9e"/>
<rect x="276.19" y="416.88" width="5.6" height="13.5" fill="#1632c6"/>
<rect x="278.19" y="419.88" width="1.6" height="6" fill="#3a5cf0"/>
<rect x="274.29" y="418.26" width="5.6" height="13.5" fill="#1632c6"/>
<rect x="276.19" y="421.76" width="1.9" height="5" fill="#8ea4fa"/>
<rect x="270.91" y="419.69" width="5.6" height="13.5" fill="#1632c6"/>
<rect x="272.91" y="422.69" width="1.6" height="6" fill="#3a5cf0"/>
<rect x="266.12" y="421.14" width="5.6" height="13.5" fill="#1632c6"/>
<rect x="268.02" y="424.64" width="1.9" height="5" fill="#8ea4fa"/>
<rect x="259.98" y="422.61" width="5.6" height="13.5" fill="#1632c6"/>
<rect x="261.98" y="425.61" width="1.6" height="6" fill="#3a5cf0"/>
<rect x="252.58" y="424.06" width="5.6" height="13.5" fill="#1632c6"/>
<rect x="254.48" y="427.56" width="1.9" height="5" fill="#8ea4fa"/>
<rect x="244.04" y="425.47" width="5.6" height="13.5" fill="#1632c6"/>
<rect x="246.04" y="428.47" width="1.6" height="6" fill="#3a5cf0"/>
<rect x="234.48" y="426.83" width="5.6" height="13.5" fill="#1632c6"/>
<rect x="236.38" y="430.33" width="1.9" height="5" fill="#8ea4fa"/>
<rect x="224.05" y="428.10" width="5.6" height="13.5" fill="#1632c6"/>
<rect x="226.05" y="431.10" width="1.6" height="6" fill="#3a5cf0"/>
<rect x="212.92" y="429.28" width="5.6" height="13.5" fill="#1632c6"/>
<rect x="214.82" y="432.78" width="1.9" height="5" fill="#8ea4fa"/>
<rect x="201.23" y="430.35" width="5.6" height="13.5" fill="#1632c6"/>
<rect x="203.23" y="433.35" width="1.6" height="6" fill="#3a5cf0"/>
<rect x="189.18" y="431.28" width="5.6" height="13.5" fill="#1632c6"/>
<rect x="191.08" y="434.78" width="1.9" height="5" fill="#8ea4fa"/>
<rect x="176.95" y="432.07" width="5.6" height="13.5" fill="#1632c6"/>
<rect x="178.95" y="435.07" width="1.6" height="6" fill="#3a5cf0"/>
<rect x="164.72" y="432.70" width="5.6" height="13.5" fill="#1632c6"/>
<rect x="166.62" y="436.20" width="1.9" height="5" fill="#8ea4fa"/>
<rect x="152.67" y="433.16" width="5.6" height="13.5" fill="#1632c6"/>
<rect x="154.67" y="436.16" width="1.6" height="6" fill="#3a5cf0"/>
<rect x="140.98" y="433.45" width="5.6" height="13.5" fill="#1632c6"/>
<rect x="142.88" y="436.95" width="1.9" height="5" fill="#8ea4fa"/>
<rect x="129.85" y="433.56" width="5.6" height="13.5" fill="#1632c6"/>
<rect x="131.85" y="436.56" width="1.6" height="6" fill="#3a5cf0"/>
<rect x="119.42" y="433.49" width="5.6" height="13.5" fill="#1632c6"/>
<rect x="121.32" y="436.99" width="1.9" height="5" fill="#8ea4fa"/>
<rect x="109.86" y="433.24" width="5.6" height="13.5" fill="#1632c6"/>
<rect x="111.86" y="436.24" width="1.6" height="6" fill="#3a5cf0"/>
<rect x="101.32" y="432.82" width="5.6" height="13.5" fill="#1632c6"/>
<rect x="103.22" y="436.32" width="1.9" height="5" fill="#8ea4fa"/>
<rect x="93.92" y="432.22" width="5.6" height="13.5" fill="#1632c6"/>
<rect x="95.92" y="435.22" width="1.6" height="6" fill="#3a5cf0"/>
<rect x="87.78" y="431.47" width="5.6" height="13.5" fill="#1632c6"/>
<rect x="89.68" y="434.97" width="1.9" height="5" fill="#8ea4fa"/>
<rect x="82.99" y="430.57" width="5.6" height="13.5" fill="#1632c6"/>
<rect x="84.99" y="433.57" width="1.6" height="6" fill="#3a5cf0"/>
<rect x="79.61" y="429.53" width="5.6" height="13.5" fill="#1632c6"/>
<rect x="81.51" y="433.03" width="1.9" height="5" fill="#8ea4fa"/>
<rect x="77.71" y="428.38" width="5.6" height="13.5" fill="#1632c6"/>
<rect x="79.71" y="431.38" width="1.6" height="6" fill="#3a5cf0"/>
<ellipse cx="175" cy="454" rx="45" ry="5" fill="url(#hlC)" opacity="0.5"/>
</g>
<polyline points="250.24,423.54 249.29,423.69 248.33,423.84 247.36,423.99 246.37,424.14 245.38,424.29 244.37,424.44 243.35,424.59 242.32,424.74 241.28,424.88 240.22,425.03 239.16,425.18 238.09,425.32 237.00,425.46 235.91,425.61 234.80,425.75 233.69,425.89 232.57,426.03 231.43,426.17 230.29,426.30 229.14,426.44 227.98,426.57 226.81,426.71 225.63,426.84 224.45,426.97 223.25,427.10 222.05,427.23 220.84,427.36 219.63,427.49 218.40,427.61 217.17,427.74 215.94,427.86 214.69,427.98 213.44,428.10 212.19,428.22 210.93,428.34 209.66,428.46 208.39,428.57 207.11,428.68 205.83,428.80 204.54,428.91 203.25,429.01 201.95,429.12 200.65,429.23 199.35,429.33 198.04,429.43 196.73,429.53 195.42,429.63 194.11,429.73 192.79,429.82 191.47,429.92 190.14,430.01 188.82,430.10 187.49,430.19 186.17,430.27 184.84,430.36 183.51,430.44 182.18,430.52 180.85,430.60 179.52,430.68 178.18,430.76 176.85,430.83 175.52,430.90 174.19,430.97 172.87,431.04 171.54,431.11 170.21,431.17 168.89,431.23 167.57,431.29 166.25,431.35 164.93,431.41 163.62,431.46 162.30,431.52 160.99,431.57 159.69,431.62 158.39,431.66 157.09,431.71 155.80,431.75 154.51,431.79 153.22,431.83 151.94,431.86 150.66,431.90 149.39,431.93 148.13,431.96 146.87,431.99 145.62,432.01 144.37,432.04 143.13,432.06 141.89,432.08 140.67,432.10 139.44,432.11 138.23,432.12 137.02,432.14 135.83,432.14 134.64,432.15 133.45,432.16 132.28,432.16 131.11,432.16 129.95,432.16 128.81,432.15 127.67,432.15 126.54,432.14 125.42,432.13 124.30,432.12 123.20,432.10 122.11,432.09 121.03,432.07 119.96,432.05 118.90,432.02 117.85,432.00 116.82,431.97 115.79,431.94 114.77,431.91 113.77,431.88 112.78,431.84 111.80,431.81 110.83,431.77 109.88,431.73 108.93,431.68 108.00,431.64 107.09,431.59" fill="none" stroke="#30d8c8" stroke-width="1.3"/>
<polygon points="79.98,398.53 80.01,398.18 80.12,397.82 80.29,397.45 80.53,397.09 80.83,396.72 81.21,396.36 81.65,395.99 82.16,395.62 82.74,395.25 83.38,394.88 84.09,394.51 84.86,394.13 85.70,393.76 86.61,393.39 87.57,393.02 88.60,392.66 89.70,392.29 90.85,391.92 92.07,391.56 93.35,391.20 94.68,390.84 96.07,390.49 97.53,390.13 99.03,389.78 100.60,389.43 102.21,389.09 103.88,388.75 105.61,388.42 107.38,388.08 109.20,387.76 111.07,387.43 112.99,387.12 114.95,386.80 116.96,386.50 119.01,386.20 121.11,385.90 123.24,385.61 125.41,385.33 127.62,385.05 129.86,384.78 132.14,384.52 134.45,384.26 136.80,384.01 139.17,383.77 141.57,383.53 144.00,383.30 146.45,383.08 148.92,382.87 151.41,382.67 153.93,382.47 156.46,382.28 159.01,382.10 161.57,381.93 164.14,381.77 166.73,381.62 169.32,381.47 171.92,381.34 174.53,381.21 177.14,381.10 179.75,380.99 182.36,380.89 184.97,380.80 187.58,380.72 190.18,380.65 192.77,380.59 195.36,380.54 197.93,380.50 200.49,380.47 203.04,380.45 205.57,380.44 208.09,380.43 210.58,380.44 213.05,380.46 215.50,380.48 217.93,380.52 220.33,380.57 222.70,380.62 225.05,380.69 227.36,380.76 229.64,380.85 231.88,380.94 234.09,381.04 236.26,381.16 238.39,381.28 240.49,381.41 242.54,381.55 244.55,381.70 246.51,381.85 248.43,382.02 250.30,382.19 252.12,382.38 253.89,382.57 255.62,382.77 257.29,382.98 258.90,383.19 260.47,383.42 261.97,383.65 263.43,383.89 264.82,384.14 266.15,384.39 267.43,384.65 268.65,384.92 269.80,385.19 270.90,385.47 271.93,385.76 272.89,386.05 273.80,386.35 274.64,386.65 275.41,386.96 276.12,387.28 276.76,387.60 277.34,387.92 277.85,388.25 278.29,388.59 278.67,388.92 278.97,389.27 279.21,389.61 279.38,389.96 279.49,390.31 279.52,390.67 279.43,412.88 279.40,413.15 279.29,413.43 279.12,413.71 278.89,414.00 278.58,414.29 278.20,414.58 277.76,414.87 277.25,415.17 276.68,415.47 276.03,415.77 275.33,416.08 274.55,416.38 273.71,416.69 272.81,417.00 271.84,417.30 270.81,417.61 269.72,417.93 268.57,418.24 267.35,418.55 266.08,418.86 264.74,419.17 263.35,419.48 261.90,419.79 260.39,420.10 258.83,420.41 257.22,420.72 255.55,421.03 253.83,421.33 252.06,421.63 250.24,421.94 248.37,422.23 246.45,422.53 244.49,422.82 242.48,423.11 240.43,423.40 238.34,423.69 236.21,423.97 234.04,424.24 231.83,424.52 229.59,424.79 227.31,425.05 225.00,425.31 222.66,425.57 220.29,425.82 217.90,426.07 215.47,426.31 213.02,426.54 210.55,426.77 208.06,427.00 205.55,427.22 203.02,427.43 200.47,427.64 197.92,427.84 195.34,428.04 192.76,428.23 190.17,428.41 187.57,428.58 184.97,428.75 182.36,428.91 179.75,429.07 177.14,429.22 174.53,429.36 171.93,429.49 169.33,429.61 166.74,429.73 164.16,429.84 161.58,429.94 159.03,430.04 156.48,430.13 153.95,430.21 151.44,430.28 148.95,430.34 146.48,430.40 144.03,430.44 141.60,430.48 139.21,430.51 136.84,430.54 134.50,430.55 132.19,430.56 129.91,430.56 127.67,430.55 125.46,430.53 123.29,430.50 121.16,430.47 119.07,430.43 117.02,430.38 115.01,430.32 113.05,430.25 111.13,430.18 109.26,430.10 107.44,430.01 105.67,429.91 103.95,429.80 102.28,429.69 100.67,429.57 99.11,429.44 97.60,429.31 96.15,429.16 94.76,429.01 93.42,428.86 92.15,428.69 90.93,428.52 89.78,428.34 88.69,428.16 87.66,427.97 86.69,427.77 85.79,427.57 84.95,427.36 84.17,427.14 83.47,426.92 82.82,426.69 82.25,426.46 81.74,426.22 81.30,425.98 80.92,425.73 80.61,425.48 80.38,425.22 80.21,424.96 80.10,424.69 80.07,424.42" fill="#081ca6"/>
<clipPath id="clipC2"><polygon points="79.98,398.53 80.01,398.18 80.12,397.82 80.29,397.45 80.53,397.09 80.83,396.72 81.21,396.36 81.65,395.99 82.16,395.62 82.74,395.25 83.38,394.88 84.09,394.51 84.86,394.13 85.70,393.76 86.61,393.39 87.57,393.02 88.60,392.66 89.70,392.29 90.85,391.92 92.07,391.56 93.35,391.20 94.68,390.84 96.07,390.49 97.53,390.13 99.03,389.78 100.60,389.43 102.21,389.09 103.88,388.75 105.61,388.42 107.38,388.08 109.20,387.76 111.07,387.43 112.99,387.12 114.95,386.80 116.96,386.50 119.01,386.20 121.11,385.90 123.24,385.61 125.41,385.33 127.62,385.05 129.86,384.78 132.14,384.52 134.45,384.26 136.80,384.01 139.17,383.77 141.57,383.53 144.00,383.30 146.45,383.08 148.92,382.87 151.41,382.67 153.93,382.47 156.46,382.28 159.01,382.10 161.57,381.93 164.14,381.77 166.73,381.62 169.32,381.47 171.92,381.34 174.53,381.21 177.14,381.10 179.75,380.99 182.36,380.89 184.97,380.80 187.58,380.72 190.18,380.65 192.77,380.59 195.36,380.54 197.93,380.50 200.49,380.47 203.04,380.45 205.57,380.44 208.09,380.43 210.58,380.44 213.05,380.46 215.50,380.48 217.93,380.52 220.33,380.57 222.70,380.62 225.05,380.69 227.36,380.76 229.64,380.85 231.88,380.94 234.09,381.04 236.26,381.16 238.39,381.28 240.49,381.41 242.54,381.55 244.55,381.70 246.51,381.85 248.43,382.02 250.30,382.19 252.12,382.38 253.89,382.57 255.62,382.77 257.29,382.98 258.90,383.19 260.47,383.42 261.97,383.65 263.43,383.89 264.82,384.14 266.15,384.39 267.43,384.65 268.65,384.92 269.80,385.19 270.90,385.47 271.93,385.76 272.89,386.05 273.80,386.35 274.64,386.65 275.41,386.96 276.12,387.28 276.76,387.60 277.34,387.92 277.85,388.25 278.29,388.59 278.67,388.92 278.97,389.27 279.21,389.61 279.38,389.96 279.49,390.31 279.52,390.67 279.43,412.88 279.40,413.15 279.29,413.43 279.12,413.71 278.89,414.00 278.58,414.29 278.20,414.58 277.76,414.87 277.25,415.17 276.68,415.47 276.03,415.77 275.33,416.08 274.55,416.38 273.71,416.69 272.81,417.00 271.84,417.30 270.81,417.61 269.72,417.93 268.57,418.24 267.35,418.55 266.08,418.86 264.74,419.17 263.35,419.48 261.90,419.79 260.39,420.10 258.83,420.41 257.22,420.72 255.55,421.03 253.83,421.33 252.06,421.63 250.24,421.94 248.37,422.23 246.45,422.53 244.49,422.82 242.48,423.11 240.43,423.40 238.34,423.69 236.21,423.97 234.04,424.24 231.83,424.52 229.59,424.79 227.31,425.05 225.00,425.31 222.66,425.57 220.29,425.82 217.90,426.07 215.47,426.31 213.02,426.54 210.55,426.77 208.06,427.00 205.55,427.22 203.02,427.43 200.47,427.64 197.92,427.84 195.34,428.04 192.76,428.23 190.17,428.41 187.57,428.58 184.97,428.75 182.36,428.91 179.75,429.07 177.14,429.22 174.53,429.36 171.93,429.49 169.33,429.61 166.74,429.73 164.16,429.84 161.58,429.94 159.03,430.04 156.48,430.13 153.95,430.21 151.44,430.28 148.95,430.34 146.48,430.40 144.03,430.44 141.60,430.48 139.21,430.51 136.84,430.54 134.50,430.55 132.19,430.56 129.91,430.56 127.67,430.55 125.46,430.53 123.29,430.50 121.16,430.47 119.07,430.43 117.02,430.38 115.01,430.32 113.05,430.25 111.13,430.18 109.26,430.10 107.44,430.01 105.67,429.91 103.95,429.80 102.28,429.69 100.67,429.57 99.11,429.44 97.60,429.31 96.15,429.16 94.76,429.01 93.42,428.86 92.15,428.69 90.93,428.52 89.78,428.34 88.69,428.16 87.66,427.97 86.69,427.77 85.79,427.57 84.95,427.36 84.17,427.14 83.47,426.92 82.82,426.69 82.25,426.46 81.74,426.22 81.30,425.98 80.92,425.73 80.61,425.48 80.38,425.22 80.21,424.96 80.10,424.69 80.07,424.42"/></clipPath>
<linearGradient id="hlC2" x1="0" y1="0" x2="1" y2="0"><stop offset="0" stop-color="#6a84f4" stop-opacity="0"/><stop offset="0.35" stop-color="#6a84f4" stop-opacity="0.75"/><stop offset="0.5" stop-color="#90a6ff" stop-opacity="0.95"/><stop offset="0.65" stop-color="#6a84f4" stop-opacity="0.75"/><stop offset="1" stop-color="#6a84f4" stop-opacity="0"/></linearGradient>
<rect x="112" y="400" width="70" height="35" fill="url(#hlC2)" clip-path="url(#clipC2)"/>
<polygon points="279.52,390.59 279.49,391.02 279.36,391.45 279.13,391.89 278.80,392.33 278.38,392.77 277.85,393.21 277.24,393.65 276.52,394.10 275.71,394.54 274.81,394.99 273.81,395.43 272.71,395.88 271.53,396.32 270.26,396.76 268.89,397.20 267.44,397.64 265.90,398.07 264.28,398.50 262.57,398.92 260.79,399.35 258.92,399.76 256.97,400.17 254.95,400.58 252.85,400.98 250.68,401.38 248.44,401.76 246.14,402.14 243.77,402.52 241.33,402.88 238.83,403.24 236.28,403.59 233.67,403.93 231.01,404.26 228.29,404.58 225.53,404.89 222.72,405.19 219.87,405.48 216.99,405.76 214.06,406.03 211.10,406.29 208.11,406.53 205.09,406.77 202.05,406.99 198.98,407.20 195.90,407.39 192.80,407.58 189.68,407.75 186.56,407.91 183.43,408.06 180.30,408.19 177.16,408.31 174.03,408.41 170.90,408.51 167.79,408.58 164.68,408.65 161.59,408.70 158.52,408.74 155.47,408.76 152.44,408.77 149.44,408.76 146.47,408.74 143.53,408.71 140.63,408.66 137.76,408.60 134.94,408.53 132.16,408.44 129.43,408.34 126.75,408.22 124.12,408.09 121.55,407.95 119.03,407.79 116.58,407.62 114.18,407.44 111.85,407.25 109.59,407.04 107.39,406.82 105.27,406.59 103.22,406.35 101.25,406.10 99.36,405.83 97.54,405.55 95.80,405.26 94.15,404.97 92.58,404.66 91.10,404.34 89.71,404.01 88.40,403.67 87.19,403.33 86.06,402.97 85.03,402.61 84.09,402.24 83.25,401.86 82.50,401.48 81.85,401.08 81.29,400.68 80.84,400.28 80.47,399.87 80.21,399.45 80.05,399.03 79.98,398.61 80.01,398.18 80.14,397.75 80.37,397.31 80.70,396.87 81.12,396.43 81.65,395.99 82.26,395.55 82.98,395.10 83.79,394.66 84.69,394.21 85.69,393.77 86.79,393.32 87.97,392.88 89.24,392.44 90.61,392.00 92.06,391.56 93.60,391.13 95.22,390.70 96.93,390.28 98.71,389.85 100.58,389.44 102.53,389.03 104.55,388.62 106.65,388.22 108.82,387.82 111.06,387.44 113.36,387.06 115.73,386.68 118.17,386.32 120.67,385.96 123.22,385.61 125.83,385.27 128.49,384.94 131.21,384.62 133.97,384.31 136.78,384.01 139.63,383.72 142.51,383.44 145.44,383.17 148.40,382.91 151.39,382.67 154.41,382.43 157.45,382.21 160.52,382.00 163.60,381.81 166.70,381.62 169.82,381.45 172.94,381.29 176.07,381.14 179.20,381.01 182.34,380.89 185.47,380.79 188.60,380.69 191.71,380.62 194.82,380.55 197.91,380.50 200.98,380.46 204.03,380.44 207.06,380.43 210.06,380.44 213.03,380.46 215.97,380.49 218.87,380.54 221.74,380.60 224.56,380.67 227.34,380.76 230.07,380.86 232.75,380.98 235.38,381.11 237.95,381.25 240.47,381.41 242.92,381.58 245.32,381.76 247.65,381.95 249.91,382.16 252.11,382.38 254.23,382.61 256.28,382.85 258.25,383.10 260.14,383.37 261.96,383.65 263.70,383.94 265.35,384.23 266.92,384.54 268.40,384.86 269.79,385.19 271.10,385.53 272.31,385.87 273.44,386.23 274.47,386.59 275.41,386.96 276.25,387.34 277.00,387.72 277.65,388.12 278.21,388.52 278.66,388.92 279.03,389.33 279.29,389.75 279.45,390.17" fill="#0a22b4"/>
<polyline points="279.52,390.67 279.49,391.02 279.38,391.38 279.21,391.75 278.97,392.11 278.67,392.48 278.29,392.84 277.85,393.21 277.34,393.58 276.76,393.95 276.12,394.32 275.41,394.69 274.64,395.07 273.80,395.44 272.89,395.81 271.93,396.18 270.90,396.54 269.80,396.91 268.65,397.28 267.43,397.64 266.15,398.00 264.82,398.36 263.43,398.71 261.97,399.07 260.47,399.42 258.90,399.77 257.29,400.11 255.62,400.45 253.89,400.78 252.12,401.12 250.30,401.44 248.43,401.77 246.51,402.08 244.55,402.40 242.54,402.70 240.49,403.00 238.39,403.30 236.26,403.59 234.09,403.87 231.88,404.15 229.64,404.42 227.36,404.68 225.05,404.94 222.70,405.19 220.33,405.43 217.93,405.67 215.50,405.90 213.05,406.12 210.58,406.33 208.09,406.53 205.57,406.73 203.04,406.92 200.49,407.10 197.93,407.27 195.36,407.43 192.77,407.58 190.18,407.73 187.58,407.86 184.97,407.99 182.36,408.10 179.75,408.21 177.14,408.31 174.53,408.40 171.92,408.48 169.32,408.55 166.73,408.61 164.14,408.66 161.57,408.70 159.01,408.73 156.46,408.75 153.93,408.76 151.41,408.77 148.92,408.76 146.45,408.74 144.00,408.72 141.57,408.68 139.17,408.63 136.80,408.58 134.45,408.51 132.14,408.44 129.86,408.35 127.62,408.26 125.41,408.16 123.24,408.04 121.11,407.92 119.01,407.79 116.96,407.65 114.95,407.50 112.99,407.35 111.07,407.18 109.20,407.01 107.38,406.82 105.61,406.63 103.88,406.43 102.21,406.22 100.60,406.01 99.03,405.78 97.53,405.55 96.07,405.31 94.68,405.06 93.35,404.81 92.07,404.55 90.85,404.28 89.70,404.01 88.60,403.73 87.57,403.44 86.61,403.15 85.70,402.85 84.86,402.55 84.09,402.24 83.38,401.92 82.74,401.60 82.16,401.28 81.65,400.95 81.21,400.61 80.83,400.28 80.53,399.93 80.29,399.59 80.12,399.24 80.01,398.89 79.98,398.53" fill="none" stroke="#06168e" stroke-width="0.7"/>
<polygon points="80.00,424.00 84.50,427.00 80.00,429.50" fill="#ffffff"/>
<polygon points="279.60,411.80 275.50,414.50 279.60,417.00" fill="#ffffff"/>
<line x1="60.90" y1="521.00" x2="60.90" y2="509.20" stroke="#2030c0" stroke-width="1.1"/>
<polygon points="60.90,506.20 59.30,510.20 62.50,510.20" fill="#2030c0"/>
<line x1="60.90" y1="521.00" x2="71.50" y2="521.00" stroke="#20d040" stroke-width="1.1"/>
<polygon points="74.50,521.00 70.50,519.40 70.50,522.60" fill="#20d040"/>
<line x1="60.90" y1="521.00" x2="64.50" y2="523.00" stroke="#e02020" stroke-width="1.6"/>
<text x="60.9" y="504.0" font-size="6.5" fill="#444" text-anchor="middle">z</text>
<text x="78.5" y="521.0" font-size="6.8" fill="#444" text-anchor="middle">y</text>
<text x="67" y="525.5" font-size="5.5" fill="#444" text-anchor="middle">x</text>
<text x="499" y="307.6" font-size="7.1" fill="#222222" textLength="190.4" lengthAdjust="spacingAndGlyphs">Pn(3)=3000 &#160; Surface: Displacement field, Z component (µm)</text>
<rect x="767.1" y="298.9" width="7" height="5.2" rx="1.2" fill="#1a4fa8"/>
<rect x="768.4" y="299.9" width="2.2" height="3.2" fill="#c8e850"/>
<rect x="770.7" y="299.9" width="1.8" height="3.2" fill="#5aa8e8"/>
<text transform="translate(411.2,322.2) scale(0.77,1)" font-family='"Liberation Serif", serif' font-weight="bold" font-size="29.8" fill="#000" stroke="#000" stroke-width="0.55">D</text>
<polygon points="728.70,320.30 731.20,324.40 726.20,324.40" fill="#111"/>
<text x="733.9" y="324.5" font-size="7.0" fill="#222222" textLength="26.5" lengthAdjust="spacingAndGlyphs">9.15×10</text>
<text x="760.8" y="321.5" font-size="5.0" fill="#222222">-4</text>
<text x="741.0" y="333.4" font-size="7.0" fill="#222222" textLength="12.8" lengthAdjust="spacingAndGlyphs">×10</text>
<text x="754.2" y="330.4" font-size="5.0" fill="#222222">-4</text>
<rect x="733.0" y="338.1" width="7.7999999999999545" height="178.19999999999993" fill="url(#gD)"/>
<text x="744.4" y="343.08" font-size="7.0" fill="#222222">9</text>
<line x1="733.00" y1="340.58" x2="734.20" y2="340.58" stroke="#333" stroke-width="0.5"/>
<line x1="739.60" y1="340.58" x2="740.80" y2="340.58" stroke="#333" stroke-width="0.5"/>
<text x="744.4" y="362.55999999999995" font-size="7.0" fill="#222222">8</text>
<line x1="733.00" y1="360.06" x2="734.20" y2="360.06" stroke="#333" stroke-width="0.5"/>
<line x1="739.60" y1="360.06" x2="740.80" y2="360.06" stroke="#333" stroke-width="0.5"/>
<text x="744.4" y="382.03999999999996" font-size="7.0" fill="#222222">7</text>
<line x1="733.00" y1="379.54" x2="734.20" y2="379.54" stroke="#333" stroke-width="0.5"/>
<line x1="739.60" y1="379.54" x2="740.80" y2="379.54" stroke="#333" stroke-width="0.5"/>
<text x="744.4" y="401.52" font-size="7.0" fill="#222222">6</text>
<line x1="733.00" y1="399.02" x2="734.20" y2="399.02" stroke="#333" stroke-width="0.5"/>
<line x1="739.60" y1="399.02" x2="740.80" y2="399.02" stroke="#333" stroke-width="0.5"/>
<text x="744.4" y="421.0" font-size="7.0" fill="#222222">5</text>
<line x1="733.00" y1="418.50" x2="734.20" y2="418.50" stroke="#333" stroke-width="0.5"/>
<line x1="739.60" y1="418.50" x2="740.80" y2="418.50" stroke="#333" stroke-width="0.5"/>
<text x="744.4" y="440.47999999999996" font-size="7.0" fill="#222222">4</text>
<line x1="733.00" y1="437.98" x2="734.20" y2="437.98" stroke="#333" stroke-width="0.5"/>
<line x1="739.60" y1="437.98" x2="740.80" y2="437.98" stroke="#333" stroke-width="0.5"/>
<text x="744.4" y="459.96" font-size="7.0" fill="#222222">3</text>
<line x1="733.00" y1="457.46" x2="734.20" y2="457.46" stroke="#333" stroke-width="0.5"/>
<line x1="739.60" y1="457.46" x2="740.80" y2="457.46" stroke="#333" stroke-width="0.5"/>
<text x="744.4" y="479.44" font-size="7.0" fill="#222222">2</text>
<line x1="733.00" y1="476.94" x2="734.20" y2="476.94" stroke="#333" stroke-width="0.5"/>
<line x1="739.60" y1="476.94" x2="740.80" y2="476.94" stroke="#333" stroke-width="0.5"/>
<text x="744.4" y="498.91999999999996" font-size="7.0" fill="#222222">1</text>
<line x1="733.00" y1="496.42" x2="734.20" y2="496.42" stroke="#333" stroke-width="0.5"/>
<line x1="739.60" y1="496.42" x2="740.80" y2="496.42" stroke="#333" stroke-width="0.5"/>
<text x="744.4" y="518.4" font-size="7.0" fill="#222222">0</text>
<line x1="733.00" y1="515.90" x2="734.20" y2="515.90" stroke="#333" stroke-width="0.5"/>
<line x1="739.60" y1="515.90" x2="740.80" y2="515.90" stroke="#333" stroke-width="0.5"/>
<polygon points="726.70,522.80 731.60,522.80 729.15,527.20" fill="#111"/>
<text x="734.4" y="527.6" font-size="7.0" fill="#222222">0</text>
<line x1="449.30" y1="412.00" x2="449.30" y2="469.50" stroke="#c6c6c6" stroke-width="0.55"/>
<line x1="454.70" y1="406.60" x2="454.70" y2="464.00" stroke="#c6c6c6" stroke-width="0.55"/>
<line x1="460.10" y1="401.20" x2="460.10" y2="458.50" stroke="#c6c6c6" stroke-width="0.55"/>
<line x1="465.50" y1="395.80" x2="465.50" y2="453.00" stroke="#c6c6c6" stroke-width="0.55"/>
<line x1="449.30" y1="412.00" x2="469.50" y2="390.00" stroke="#c6c6c6" stroke-width="0.55"/>
<line x1="449.30" y1="419.00" x2="469.50" y2="397.00" stroke="#c6c6c6" stroke-width="0.55"/>
<line x1="449.30" y1="431.50" x2="469.50" y2="409.50" stroke="#c6c6c6" stroke-width="0.55"/>
<line x1="449.30" y1="443.70" x2="469.50" y2="421.70" stroke="#c6c6c6" stroke-width="0.55"/>
<line x1="449.30" y1="456.00" x2="469.50" y2="434.00" stroke="#c6c6c6" stroke-width="0.55"/>
<line x1="449.30" y1="468.60" x2="469.50" y2="446.60" stroke="#c6c6c6" stroke-width="0.55"/>
<line x1="471.70" y1="387.40" x2="471.70" y2="396.00" stroke="#c6c6c6" stroke-width="0.55"/>
<line x1="479.40" y1="386.00" x2="479.40" y2="393.00" stroke="#c6c6c6" stroke-width="0.55"/>
<line x1="640.50" y1="382.50" x2="640.50" y2="385.50" stroke="#c6c6c6" stroke-width="0.55"/>
<line x1="693.30" y1="382.00" x2="693.30" y2="393.00" stroke="#c6c6c6" stroke-width="0.55"/>
<line x1="465.50" y1="395.80" x2="479.40" y2="386.00" stroke="#c6c6c6" stroke-width="0.55"/>
<line x1="449.30" y1="469.50" x2="460.00" y2="476.50" stroke="#c6c6c6" stroke-width="0.55"/>
<line x1="460.00" y1="476.50" x2="703.00" y2="471.00" stroke="#c6c6c6" stroke-width="0.55"/>
<line x1="703.00" y1="471.00" x2="700.60" y2="428.00" stroke="#c6c6c6" stroke-width="0.55"/>
<line x1="470.00" y1="470.00" x2="520.00" y2="470.50" stroke="#c6c6c6" stroke-width="0.55"/>
<line x1="520.00" y1="475.20" x2="524.00" y2="463.20" stroke="#c6c6c6" stroke-width="0.55"/>
<line x1="580.50" y1="473.80" x2="584.50" y2="461.80" stroke="#c6c6c6" stroke-width="0.55"/>
<line x1="641.50" y1="472.40" x2="645.50" y2="460.40" stroke="#c6c6c6" stroke-width="0.55"/>
<text x="447.0" y="420.7" font-size="6.6" fill="#444" text-anchor="middle">0.4</text>
<text x="447.0" y="433.8" font-size="6.6" fill="#444" text-anchor="middle">0.3</text>
<text x="447.0" y="445.9" font-size="6.6" fill="#444" text-anchor="middle">0.2</text>
<text x="447.0" y="458.4" font-size="6.6" fill="#444" text-anchor="middle">0.1</text>
<text x="448.0" y="471.0" font-size="6.6" fill="#444" text-anchor="middle">0</text>
<text x="457.0" y="480.0" font-size="6.6" fill="#444" text-anchor="middle">-1</text>
<text x="519.5" y="478.0" font-size="6.6" fill="#444" text-anchor="middle">-0.5</text>
<text x="580.6" y="477.4" font-size="6.6" fill="#444" text-anchor="middle">0</text>
<text x="641.7" y="476.4" font-size="6.6" fill="#444" text-anchor="middle">0.5</text>
<text x="703.0" y="474.6" font-size="6.6" fill="#444" text-anchor="middle">1</text>
<text x="703.6" y="441.7" font-size="6.6" fill="#444" text-anchor="middle">-1</text>
<text x="705.6" y="448.8" font-size="6.6" fill="#444" text-anchor="middle">-0.5</text>
<text x="706.8" y="456.8" font-size="6.6" fill="#444" text-anchor="middle">0</text>
<text x="709.2" y="464.9" font-size="6.6" fill="#444" text-anchor="middle">0.5</text>
<text x="711.7" y="473.9" font-size="6.6" fill="#444" text-anchor="middle">1</text>
<polygon points="468.66,427.20 468.70,427.06 468.81,426.91 469.01,426.76 469.29,426.61 469.64,426.45 470.07,426.30 470.58,426.14 471.17,425.98 471.83,425.82 472.57,425.66 473.39,425.49 474.28,425.33 475.25,425.16 476.29,424.99 477.41,424.82 478.59,424.65 479.85,424.48 481.18,424.31 482.59,424.14 484.06,423.97 485.59,423.80 487.20,423.63 488.87,423.45 490.61,423.28 492.41,423.11 494.27,422.94 496.20,422.77 498.18,422.60 500.22,422.43 502.32,422.26 504.48,422.09 506.69,421.92 508.95,421.76 511.26,421.59 513.63,421.43 516.04,421.27 518.50,421.11 521.00,420.95 523.54,420.79 526.13,420.64 528.75,420.48 531.42,420.33 534.12,420.18 536.85,420.04 539.61,419.90 542.41,419.75 545.23,419.62 548.08,419.48 550.95,419.35 553.85,419.22 556.77,419.09 559.70,418.97 562.65,418.85 565.62,418.73 568.60,418.61 571.59,418.50 574.58,418.40 577.58,418.29 580.59,418.19 583.60,418.10 586.61,418.00 589.62,417.92 592.62,417.83 595.61,417.75 598.60,417.67 601.58,417.60 604.55,417.53 607.50,417.47 610.43,417.41 613.35,417.35 616.25,417.30 619.12,417.25 621.97,417.21 624.79,417.17 627.59,417.14 630.35,417.11 633.08,417.08 635.78,417.06 638.45,417.04 641.07,417.03 643.66,417.03 646.20,417.02 648.70,417.02 651.16,417.03 653.57,417.04 655.94,417.06 658.25,417.08 660.51,417.10 662.72,417.13 664.88,417.16 666.98,417.20 669.02,417.24 671.00,417.29 672.93,417.34 674.79,417.39 676.59,417.45 678.33,417.51 680.00,417.58 681.61,417.65 683.14,417.73 684.61,417.81 686.02,417.89 687.35,417.98 688.61,418.07 689.79,418.16 690.91,418.26 691.95,418.37 692.92,418.47 693.81,418.58 694.63,418.69 695.37,418.81 696.03,418.93 696.62,419.05 697.13,419.18 697.56,419.31 697.91,419.44 698.19,419.58 698.39,419.71 698.50,419.85 698.54,420.00 698.59,451.41 698.55,451.68 698.43,451.94 698.23,452.21 697.96,452.48 697.60,452.75 697.17,453.03 696.66,453.30 696.07,453.57 695.41,453.84 694.67,454.11 693.85,454.38 692.96,454.65 691.99,454.92 690.95,455.18 689.83,455.45 688.64,455.71 687.38,455.97 686.05,456.23 684.65,456.49 683.18,456.75 681.64,457.00 680.04,457.25 678.36,457.50 676.63,457.75 674.82,457.99 672.96,458.23 671.04,458.46 669.05,458.69 667.01,458.92 664.91,459.15 662.75,459.37 660.54,459.58 658.28,459.79 655.96,460.00 653.60,460.20 651.19,460.40 648.73,460.59 646.23,460.78 643.68,460.96 641.09,461.14 638.47,461.31 635.80,461.48 633.10,461.64 630.37,461.79 627.60,461.94 624.81,462.08 621.98,462.22 619.13,462.35 616.26,462.47 613.36,462.59 610.44,462.70 607.51,462.81 604.55,462.90 601.59,463.00 598.61,463.08 595.62,463.16 592.62,463.23 589.62,463.29 586.61,463.35 583.60,463.40 580.59,463.44 577.58,463.48 574.58,463.51 571.58,463.53 568.59,463.55 565.61,463.56 562.65,463.56 559.69,463.55 556.76,463.54 553.84,463.52 550.94,463.49 548.07,463.46 545.22,463.41 542.39,463.37 539.60,463.31 536.83,463.25 534.10,463.18 531.40,463.10 528.73,463.02 526.11,462.93 523.52,462.83 520.97,462.73 518.47,462.62 516.01,462.51 513.60,462.38 511.24,462.26 508.92,462.12 506.66,461.98 504.45,461.83 502.29,461.68 500.19,461.52 498.15,461.36 496.16,461.19 494.24,461.01 492.38,460.83 490.57,460.65 488.84,460.45 487.16,460.26 485.56,460.06 484.02,459.85 482.55,459.64 481.15,459.43 479.82,459.21 478.56,458.99 477.37,458.76 476.25,458.53 475.21,458.29 474.24,458.06 473.35,457.82 472.53,457.57 471.79,457.32 471.13,457.07 470.54,456.82 470.03,456.57 469.60,456.31 469.24,456.05 468.97,455.79 468.77,455.52 468.65,455.26 468.61,454.99" fill="#0a20b0"/>
<line x1="697.15" y1="435.39" x2="697.15" y2="445.39" stroke="#071890" stroke-width="0.7"/>
<line x1="694.95" y1="435.96" x2="694.95" y2="445.96" stroke="#071890" stroke-width="0.7"/>
<line x1="691.76" y1="436.54" x2="691.76" y2="446.54" stroke="#071890" stroke-width="0.7"/>
<line x1="687.62" y1="437.12" x2="687.62" y2="447.12" stroke="#071890" stroke-width="0.7"/>
<line x1="682.55" y1="437.72" x2="682.55" y2="447.72" stroke="#071890" stroke-width="0.7"/>
<line x1="676.61" y1="438.30" x2="676.61" y2="448.30" stroke="#071890" stroke-width="0.7"/>
<line x1="669.83" y1="438.89" x2="669.83" y2="448.89" stroke="#071890" stroke-width="0.7"/>
<line x1="662.30" y1="439.45" x2="662.30" y2="449.45" stroke="#071890" stroke-width="0.7"/>
<line x1="654.06" y1="440.01" x2="654.06" y2="450.01" stroke="#071890" stroke-width="0.7"/>
<line x1="645.20" y1="440.54" x2="645.20" y2="450.54" stroke="#071890" stroke-width="0.7"/>
<line x1="635.79" y1="441.04" x2="635.79" y2="451.04" stroke="#071890" stroke-width="0.7"/>
<line x1="625.92" y1="441.51" x2="625.92" y2="451.51" stroke="#071890" stroke-width="0.7"/>
<line x1="615.67" y1="441.95" x2="615.67" y2="451.95" stroke="#071890" stroke-width="0.7"/>
<line x1="605.14" y1="442.34" x2="605.14" y2="452.34" stroke="#071890" stroke-width="0.7"/>
<line x1="594.42" y1="442.69" x2="594.42" y2="452.69" stroke="#071890" stroke-width="0.7"/>
<line x1="583.60" y1="443.00" x2="583.60" y2="453.00" stroke="#071890" stroke-width="0.7"/>
<line x1="572.78" y1="443.26" x2="572.78" y2="453.26" stroke="#071890" stroke-width="0.7"/>
<line x1="562.06" y1="443.47" x2="562.06" y2="453.47" stroke="#071890" stroke-width="0.7"/>
<line x1="551.53" y1="443.62" x2="551.53" y2="453.62" stroke="#071890" stroke-width="0.7"/>
<line x1="541.28" y1="443.72" x2="541.28" y2="453.72" stroke="#071890" stroke-width="0.7"/>
<line x1="531.41" y1="443.77" x2="531.41" y2="453.77" stroke="#071890" stroke-width="0.7"/>
<line x1="522.00" y1="443.75" x2="522.00" y2="453.75" stroke="#071890" stroke-width="0.7"/>
<line x1="513.14" y1="443.69" x2="513.14" y2="453.69" stroke="#071890" stroke-width="0.7"/>
<line x1="504.90" y1="443.57" x2="504.90" y2="453.57" stroke="#071890" stroke-width="0.7"/>
<line x1="497.37" y1="443.39" x2="497.37" y2="453.39" stroke="#071890" stroke-width="0.7"/>
<line x1="490.59" y1="443.16" x2="490.59" y2="453.16" stroke="#071890" stroke-width="0.7"/>
<line x1="484.65" y1="442.89" x2="484.65" y2="452.89" stroke="#071890" stroke-width="0.7"/>
<line x1="479.58" y1="442.56" x2="479.58" y2="452.56" stroke="#071890" stroke-width="0.7"/>
<line x1="475.44" y1="442.19" x2="475.44" y2="452.19" stroke="#071890" stroke-width="0.7"/>
<line x1="472.25" y1="441.78" x2="472.25" y2="451.78" stroke="#071890" stroke-width="0.7"/>
<line x1="470.05" y1="441.33" x2="470.05" y2="451.33" stroke="#071890" stroke-width="0.7"/>
<polygon points="698.54,419.00 698.50,419.14 698.39,419.29 698.19,419.44 697.91,419.59 697.56,419.75 697.13,419.90 696.62,420.06 696.03,420.22 695.37,420.38 694.63,420.54 693.81,420.71 692.92,420.87 691.95,421.04 690.91,421.21 689.79,421.38 688.61,421.55 687.35,421.72 686.02,421.89 684.61,422.06 683.14,422.23 681.61,422.40 680.00,422.57 678.33,422.75 676.59,422.92 674.79,423.09 672.93,423.26 671.00,423.43 669.02,423.60 666.98,423.77 664.88,423.94 662.72,424.11 660.51,424.28 658.25,424.44 655.94,424.61 653.57,424.77 651.16,424.93 648.70,425.09 646.20,425.25 643.66,425.41 641.07,425.56 638.45,425.72 635.78,425.87 633.08,426.02 630.35,426.16 627.59,426.30 624.79,426.45 621.97,426.58 619.12,426.72 616.25,426.85 613.35,426.98 610.43,427.11 607.50,427.23 604.55,427.35 601.58,427.47 598.60,427.59 595.61,427.70 592.62,427.80 589.62,427.91 586.61,428.01 583.60,428.10 580.59,428.20 577.58,428.28 574.58,428.37 571.59,428.45 568.60,428.53 565.62,428.60 562.65,428.67 559.70,428.73 556.77,428.79 553.85,428.85 550.95,428.90 548.08,428.95 545.23,428.99 542.41,429.03 539.61,429.06 536.85,429.09 534.12,429.12 531.42,429.14 528.75,429.16 526.13,429.17 523.54,429.17 521.00,429.18 518.50,429.18 516.04,429.17 513.63,429.16 511.26,429.14 508.95,429.12 506.69,429.10 504.48,429.07 502.32,429.04 500.22,429.00 498.18,428.96 496.20,428.91 494.27,428.86 492.41,428.81 490.61,428.75 488.87,428.69 487.20,428.62 485.59,428.55 484.06,428.47 482.59,428.39 481.18,428.31 479.85,428.22 478.59,428.13 477.41,428.04 476.29,427.94 475.25,427.83 474.28,427.73 473.39,427.62 472.57,427.51 471.83,427.39 471.17,427.27 470.58,427.15 470.07,427.02 469.64,426.89 469.29,426.76 469.01,426.62 468.81,426.49 468.70,426.35 468.66,426.20 468.64,441.00 468.68,441.15 468.80,441.29 468.99,441.43 469.27,441.56 469.62,441.70 470.05,441.83 470.56,441.96 471.15,442.08 471.82,442.20 472.56,442.33 473.37,442.44 474.27,442.56 475.23,442.67 476.27,442.78 477.39,442.88 478.58,442.98 479.84,443.08 481.17,443.17 482.57,443.26 484.04,443.35 485.58,443.44 487.19,443.52 488.86,443.59 490.59,443.66 492.40,443.73 494.26,443.80 496.18,443.86 498.17,443.91 500.21,443.97 502.31,444.01 504.47,444.06 506.68,444.10 508.94,444.13 511.25,444.17 513.62,444.19 516.03,444.22 518.49,444.24 520.99,444.25 523.53,444.26 526.12,444.27 528.75,444.27 531.41,444.27 534.11,444.26 536.84,444.25 539.61,444.23 542.40,444.21 545.23,444.19 548.08,444.16 550.95,444.13 553.85,444.09 556.76,444.05 559.70,444.01 562.65,443.96 565.62,443.90 568.59,443.85 571.58,443.79 574.58,443.72 577.58,443.65 580.59,443.58 583.60,443.50 586.61,443.42 589.62,443.34 592.62,443.25 595.62,443.16 598.61,443.06 601.58,442.96 604.55,442.86 607.50,442.76 610.44,442.65 613.35,442.54 616.25,442.42 619.12,442.30 621.97,442.18 624.80,442.06 627.59,441.93 630.36,441.80 633.09,441.67 635.79,441.54 638.45,441.40 641.08,441.26 643.67,441.12 646.21,440.98 648.71,440.83 651.17,440.69 653.58,440.54 655.95,440.39 658.26,440.23 660.52,440.08 662.73,439.92 664.89,439.77 666.99,439.61 669.03,439.45 671.02,439.29 672.94,439.13 674.80,438.97 676.61,438.80 678.34,438.64 680.01,438.48 681.62,438.31 683.16,438.15 684.63,437.99 686.03,437.82 687.36,437.66 688.62,437.49 689.81,437.33 690.93,437.17 691.97,437.01 692.93,436.84 693.83,436.68 694.64,436.52 695.38,436.36 696.05,436.21 696.64,436.05 697.15,435.89 697.58,435.74 697.93,435.59 698.21,435.44 698.40,435.29 698.52,435.14 698.56,435.00" fill="url(#bandD)"/>
<line x1="694.93" y1="421.78" x2="694.53" y2="429.28" stroke="#1a60e8" stroke-width="1.0"/>
<line x1="693.73" y1="425.78" x2="693.73" y2="434.78" stroke="#06167a" stroke-width="0.5"/>
<line x1="690.20" y1="422.62" x2="689.80" y2="430.12" stroke="#1a60e8" stroke-width="1.0"/>
<line x1="689.00" y1="426.62" x2="689.00" y2="435.62" stroke="#06167a" stroke-width="0.5"/>
<line x1="683.62" y1="423.48" x2="683.22" y2="430.98" stroke="#1a60e8" stroke-width="1.0"/>
<line x1="682.42" y1="427.48" x2="682.42" y2="436.48" stroke="#06167a" stroke-width="0.5"/>
<line x1="675.30" y1="424.34" x2="674.90" y2="431.84" stroke="#20a0f0" stroke-width="1.0"/>
<line x1="674.10" y1="428.34" x2="674.10" y2="437.34" stroke="#06167a" stroke-width="0.5"/>
<line x1="665.39" y1="425.20" x2="664.99" y2="432.70" stroke="#20a0f0" stroke-width="1.0"/>
<line x1="664.19" y1="429.20" x2="664.19" y2="438.20" stroke="#06167a" stroke-width="0.5"/>
<line x1="654.05" y1="426.04" x2="653.65" y2="433.54" stroke="#20a0f0" stroke-width="1.0"/>
<line x1="652.85" y1="430.04" x2="652.85" y2="439.04" stroke="#06167a" stroke-width="0.5"/>
<line x1="641.49" y1="426.84" x2="641.09" y2="434.34" stroke="#50f0c0" stroke-width="1.0"/>
<line x1="640.29" y1="430.84" x2="640.29" y2="439.84" stroke="#06167a" stroke-width="0.5"/>
<line x1="627.92" y1="427.59" x2="627.52" y2="435.09" stroke="#50f0c0" stroke-width="1.0"/>
<line x1="626.72" y1="431.59" x2="626.72" y2="440.59" stroke="#06167a" stroke-width="0.5"/>
<line x1="613.58" y1="428.27" x2="613.18" y2="435.77" stroke="#50f0c0" stroke-width="1.0"/>
<line x1="612.38" y1="432.27" x2="612.38" y2="441.27" stroke="#06167a" stroke-width="0.5"/>
<line x1="598.72" y1="428.88" x2="598.32" y2="436.38" stroke="#50f0c0" stroke-width="1.0"/>
<line x1="597.52" y1="432.88" x2="597.52" y2="441.88" stroke="#06167a" stroke-width="0.5"/>
<line x1="583.60" y1="429.40" x2="583.20" y2="436.90" stroke="#50f0c0" stroke-width="1.0"/>
<line x1="582.40" y1="433.40" x2="582.40" y2="442.40" stroke="#06167a" stroke-width="0.5"/>
<line x1="568.48" y1="429.83" x2="568.08" y2="437.33" stroke="#50f0c0" stroke-width="1.0"/>
<line x1="567.28" y1="433.83" x2="567.28" y2="442.83" stroke="#06167a" stroke-width="0.5"/>
<line x1="553.62" y1="430.15" x2="553.22" y2="437.65" stroke="#50f0c0" stroke-width="1.0"/>
<line x1="552.42" y1="434.15" x2="552.42" y2="443.15" stroke="#06167a" stroke-width="0.5"/>
<line x1="539.28" y1="430.37" x2="538.88" y2="437.87" stroke="#50f0c0" stroke-width="1.0"/>
<line x1="538.08" y1="434.37" x2="538.08" y2="443.37" stroke="#06167a" stroke-width="0.5"/>
<line x1="525.71" y1="430.47" x2="525.31" y2="437.97" stroke="#50f0c0" stroke-width="1.0"/>
<line x1="524.51" y1="434.47" x2="524.51" y2="443.47" stroke="#06167a" stroke-width="0.5"/>
<line x1="513.15" y1="430.46" x2="512.75" y2="437.96" stroke="#20a0f0" stroke-width="1.0"/>
<line x1="511.95" y1="434.46" x2="511.95" y2="443.46" stroke="#06167a" stroke-width="0.5"/>
<line x1="501.81" y1="430.33" x2="501.41" y2="437.83" stroke="#20a0f0" stroke-width="1.0"/>
<line x1="500.61" y1="434.33" x2="500.61" y2="443.33" stroke="#06167a" stroke-width="0.5"/>
<line x1="491.90" y1="430.09" x2="491.50" y2="437.59" stroke="#20a0f0" stroke-width="1.0"/>
<line x1="490.70" y1="434.09" x2="490.70" y2="443.09" stroke="#06167a" stroke-width="0.5"/>
<line x1="483.58" y1="429.75" x2="483.18" y2="437.25" stroke="#1a60e8" stroke-width="1.0"/>
<line x1="482.38" y1="433.75" x2="482.38" y2="442.75" stroke="#06167a" stroke-width="0.5"/>
<line x1="477.00" y1="429.30" x2="476.60" y2="436.80" stroke="#1a60e8" stroke-width="1.0"/>
<line x1="475.80" y1="433.30" x2="475.80" y2="442.30" stroke="#06167a" stroke-width="0.5"/>
<line x1="472.27" y1="428.76" x2="471.87" y2="436.26" stroke="#1a60e8" stroke-width="1.0"/>
<line x1="471.07" y1="432.76" x2="471.07" y2="441.76" stroke="#06167a" stroke-width="0.5"/>
<polygon points="468.80,426.00 473.50,428.80 468.80,431.50" fill="#ffffff"/>
<polygon points="698.60,418.60 694.00,421.40 698.60,424.00" fill="#ffffff"/>
<polygon points="468.63,398.62 468.67,398.32 468.79,398.02 468.98,397.72 469.26,397.42 469.61,397.11 470.05,396.81 470.56,396.50 471.14,396.19 471.81,395.89 472.55,395.58 473.36,395.28 474.26,394.97 475.22,394.67 476.27,394.36 477.38,394.06 478.57,393.76 479.83,393.46 481.16,393.16 482.56,392.86 484.03,392.57 485.57,392.28 487.18,391.99 488.85,391.70 490.59,391.42 492.39,391.14 494.25,390.86 496.18,390.59 498.16,390.32 500.20,390.05 502.30,389.79 504.46,389.53 506.67,389.28 508.93,389.03 511.25,388.79 513.61,388.55 516.02,388.32 518.48,388.09 520.98,387.87 523.53,387.65 526.12,387.44 528.74,387.23 531.40,387.03 534.10,386.84 536.84,386.65 539.60,386.47 542.40,386.29 545.22,386.13 548.07,385.97 550.95,385.81 553.84,385.66 556.76,385.52 559.70,385.39 562.65,385.27 565.61,385.15 568.59,385.04 571.58,384.93 574.58,384.84 577.58,384.75 580.59,384.67 583.60,384.60 586.61,384.53 589.62,384.48 592.62,384.43 595.62,384.39 598.61,384.35 601.59,384.33 604.55,384.31 607.50,384.30 610.44,384.30 613.36,384.31 616.25,384.32 619.13,384.34 621.98,384.38 624.80,384.41 627.60,384.46 630.36,384.52 633.10,384.58 635.80,384.65 638.46,384.73 641.08,384.81 643.67,384.91 646.22,385.01 648.72,385.12 651.18,385.23 653.59,385.36 655.95,385.49 658.27,385.63 660.53,385.77 662.74,385.92 664.90,386.08 667.00,386.25 669.04,386.42 671.02,386.60 672.95,386.79 674.81,386.98 676.61,387.18 678.35,387.38 680.02,387.59 681.63,387.81 683.17,388.03 684.64,388.25 686.04,388.49 687.37,388.72 688.63,388.97 689.82,389.21 690.93,389.46 691.98,389.72 692.94,389.98 693.84,390.25 694.65,390.51 695.39,390.79 696.06,391.06 696.64,391.34 697.15,391.63 697.59,391.91 697.94,392.20 698.22,392.49 698.41,392.78 698.53,393.08 698.57,393.38 698.54,420.00 698.50,420.14 698.39,420.29 698.19,420.44 697.91,420.59 697.56,420.75 697.13,420.90 696.62,421.06 696.03,421.22 695.37,421.38 694.63,421.54 693.81,421.71 692.92,421.87 691.95,422.04 690.91,422.21 689.79,422.38 688.61,422.55 687.35,422.72 686.02,422.89 684.61,423.06 683.14,423.23 681.61,423.40 680.00,423.57 678.33,423.75 676.59,423.92 674.79,424.09 672.93,424.26 671.00,424.43 669.02,424.60 666.98,424.77 664.88,424.94 662.72,425.11 660.51,425.28 658.25,425.44 655.94,425.61 653.57,425.77 651.16,425.93 648.70,426.09 646.20,426.25 643.66,426.41 641.07,426.56 638.45,426.72 635.78,426.87 633.08,427.02 630.35,427.16 627.59,427.30 624.79,427.45 621.97,427.58 619.12,427.72 616.25,427.85 613.35,427.98 610.43,428.11 607.50,428.23 604.55,428.35 601.58,428.47 598.60,428.59 595.61,428.70 592.62,428.80 589.62,428.91 586.61,429.01 583.60,429.10 580.59,429.20 577.58,429.28 574.58,429.37 571.59,429.45 568.60,429.53 565.62,429.60 562.65,429.67 559.70,429.73 556.77,429.79 553.85,429.85 550.95,429.90 548.08,429.95 545.23,429.99 542.41,430.03 539.61,430.06 536.85,430.09 534.12,430.12 531.42,430.14 528.75,430.16 526.13,430.17 523.54,430.17 521.00,430.18 518.50,430.18 516.04,430.17 513.63,430.16 511.26,430.14 508.95,430.12 506.69,430.10 504.48,430.07 502.32,430.04 500.22,430.00 498.18,429.96 496.20,429.91 494.27,429.86 492.41,429.81 490.61,429.75 488.87,429.69 487.20,429.62 485.59,429.55 484.06,429.47 482.59,429.39 481.18,429.31 479.85,429.22 478.59,429.13 477.41,429.04 476.29,428.94 475.25,428.83 474.28,428.73 473.39,428.62 472.57,428.51 471.83,428.39 471.17,428.27 470.58,428.15 470.07,428.02 469.64,427.89 469.29,427.76 469.01,427.62 468.81,427.49 468.70,427.35 468.66,427.20" fill="#0820b0"/>
<polygon points="698.57,393.35 698.52,393.71 698.36,394.07 698.08,394.44 697.70,394.80 697.20,395.17 696.58,395.53 695.86,395.90 695.02,396.27 694.08,396.64 693.02,397.00 691.86,397.37 690.59,397.73 689.22,398.09 687.74,398.46 686.16,398.81 684.48,399.17 682.69,399.52 680.81,399.87 678.84,400.21 676.77,400.56 674.60,400.89 672.35,401.22 670.01,401.55 667.59,401.87 665.08,402.19 662.49,402.49 659.83,402.80 657.09,403.09 654.27,403.38 651.39,403.66 648.44,403.94 645.43,404.20 642.35,404.46 639.22,404.71 636.03,404.95 632.79,405.18 629.50,405.41 626.17,405.62 622.79,405.83 619.38,406.02 615.93,406.21 612.45,406.38 608.94,406.54 605.40,406.70 601.84,406.84 598.27,406.98 594.68,407.10 591.08,407.21 587.47,407.31 583.86,407.40 580.25,407.47 576.64,407.54 573.04,407.60 569.45,407.64 565.87,407.67 562.31,407.69 558.78,407.70 555.26,407.70 551.78,407.68 548.32,407.66 544.90,407.62 541.52,407.57 538.18,407.51 534.89,407.44 531.64,407.36 528.44,407.26 525.30,407.16 522.22,407.04 519.19,406.92 516.24,406.78 513.34,406.63 510.52,406.47 507.77,406.30 505.09,406.12 502.49,405.93 499.97,405.73 497.53,405.52 495.18,405.31 492.92,405.08 490.74,404.84 488.66,404.60 486.67,404.34 484.77,404.08 482.98,403.81 481.28,403.53 479.68,403.25 478.19,402.96 476.80,402.66 475.52,402.35 474.34,402.04 473.27,401.72 472.31,401.40 471.46,401.07 470.72,400.74 470.09,400.40 469.57,400.06 469.17,399.71 468.87,399.36 468.70,399.01 468.63,398.65 468.68,398.29 468.84,397.93 469.12,397.56 469.50,397.20 470.00,396.83 470.62,396.47 471.34,396.10 472.18,395.73 473.12,395.36 474.18,395.00 475.34,394.63 476.61,394.27 477.98,393.91 479.46,393.54 481.04,393.19 482.72,392.83 484.51,392.48 486.39,392.13 488.36,391.79 490.43,391.44 492.60,391.11 494.85,390.78 497.19,390.45 499.61,390.13 502.12,389.81 504.71,389.51 507.37,389.20 510.11,388.91 512.93,388.62 515.81,388.34 518.76,388.06 521.77,387.80 524.85,387.54 527.98,387.29 531.17,387.05 534.41,386.82 537.70,386.59 541.03,386.38 544.41,386.17 547.82,385.98 551.27,385.79 554.75,385.62 558.26,385.46 561.80,385.30 565.36,385.16 568.93,385.02 572.52,384.90 576.12,384.79 579.73,384.69 583.34,384.60 586.95,384.53 590.56,384.46 594.16,384.40 597.75,384.36 601.33,384.33 604.89,384.31 608.42,384.30 611.94,384.30 615.42,384.32 618.88,384.34 622.30,384.38 625.68,384.43 629.02,384.49 632.31,384.56 635.56,384.64 638.76,384.74 641.90,384.84 644.98,384.96 648.01,385.08 650.96,385.22 653.86,385.37 656.68,385.53 659.43,385.70 662.11,385.88 664.71,386.07 667.23,386.27 669.67,386.48 672.02,386.69 674.28,386.92 676.46,387.16 678.54,387.40 680.53,387.66 682.43,387.92 684.22,388.19 685.92,388.47 687.52,388.75 689.01,389.04 690.40,389.34 691.68,389.65 692.86,389.96 693.93,390.28 694.89,390.60 695.74,390.93 696.48,391.26 697.11,391.60 697.63,391.94 698.03,392.29 698.33,392.64 698.50,392.99" fill="#081ca8"/>
<polyline points="698.57,393.38 698.53,393.68 698.41,393.98 698.22,394.28 697.94,394.58 697.59,394.89 697.15,395.19 696.64,395.50 696.06,395.81 695.39,396.11 694.65,396.42 693.84,396.72 692.94,397.03 691.98,397.33 690.93,397.64 689.82,397.94 688.63,398.24 687.37,398.54 686.04,398.84 684.64,399.14 683.17,399.43 681.63,399.72 680.02,400.01 678.35,400.30 676.61,400.58 674.81,400.86 672.95,401.14 671.02,401.41 669.04,401.68 667.00,401.95 664.90,402.21 662.74,402.47 660.53,402.72 658.27,402.97 655.95,403.21 653.59,403.45 651.18,403.68 648.72,403.91 646.22,404.13 643.67,404.35 641.08,404.56 638.46,404.77 635.80,404.97 633.10,405.16 630.36,405.35 627.60,405.53 624.80,405.71 621.98,405.87 619.13,406.03 616.25,406.19 613.36,406.34 610.44,406.48 607.50,406.61 604.55,406.73 601.59,406.85 598.61,406.96 595.62,407.07 592.62,407.16 589.62,407.25 586.61,407.33 583.60,407.40 580.59,407.47 577.58,407.52 574.58,407.57 571.58,407.61 568.59,407.65 565.61,407.67 562.65,407.69 559.70,407.70 556.76,407.70 553.84,407.69 550.95,407.68 548.07,407.66 545.22,407.62 542.40,407.59 539.60,407.54 536.84,407.48 534.10,407.42 531.40,407.35 528.74,407.27 526.12,407.19 523.53,407.09 520.98,406.99 518.48,406.88 516.02,406.77 513.61,406.64 511.25,406.51 508.93,406.37 506.67,406.23 504.46,406.08 502.30,405.92 500.20,405.75 498.16,405.58 496.18,405.40 494.25,405.21 492.39,405.02 490.59,404.82 488.85,404.62 487.18,404.41 485.57,404.19 484.03,403.97 482.56,403.75 481.16,403.51 479.83,403.28 478.57,403.03 477.38,402.79 476.27,402.54 475.22,402.28 474.26,402.02 473.36,401.75 472.55,401.49 471.81,401.21 471.14,400.94 470.56,400.66 470.05,400.37 469.61,400.09 469.26,399.80 468.98,399.51 468.79,399.22 468.67,398.92 468.63,398.62" fill="none" stroke="#06168a" stroke-width="0.7"/>
<line x1="580.50" y1="407.00" x2="580.50" y2="466.00" stroke="#041060" stroke-width="0.5"/>
<line x1="454.10" y1="523.10" x2="454.10" y2="510.60" stroke="#2030c0" stroke-width="1.1"/>
<polygon points="454.10,507.60 452.50,511.60 455.70,511.60" fill="#2030c0"/>
<line x1="454.10" y1="523.10" x2="466.20" y2="523.10" stroke="#20d040" stroke-width="1.1"/>
<polygon points="469.20,523.10 465.20,521.50 465.20,524.70" fill="#20d040"/>
<line x1="454.10" y1="523.10" x2="453.00" y2="524.00" stroke="#e02020" stroke-width="1.6"/>
<text x="454.1" y="505.5" font-size="6.5" fill="#444" text-anchor="middle">z</text>
<text x="472.6" y="523.6" font-size="6.8" fill="#444" text-anchor="middle">y</text>
<rect x="2.95" y="2.95" width="790.1" height="550.1" fill="none" stroke="#000" stroke-width="1.9"/>
<line x1="394.25" y1="3.5" x2="394.25" y2="552.5" stroke="#000" stroke-width="1.75" stroke-dasharray="6.6 2.837" stroke-dashoffset="0.68"/>
<line x1="3.5" y1="281.0" x2="792.5" y2="278.2" stroke="#000" stroke-width="1.85" stroke-dasharray="5 2.224" stroke-dashoffset="0.724"/>
</svg></body></html>
